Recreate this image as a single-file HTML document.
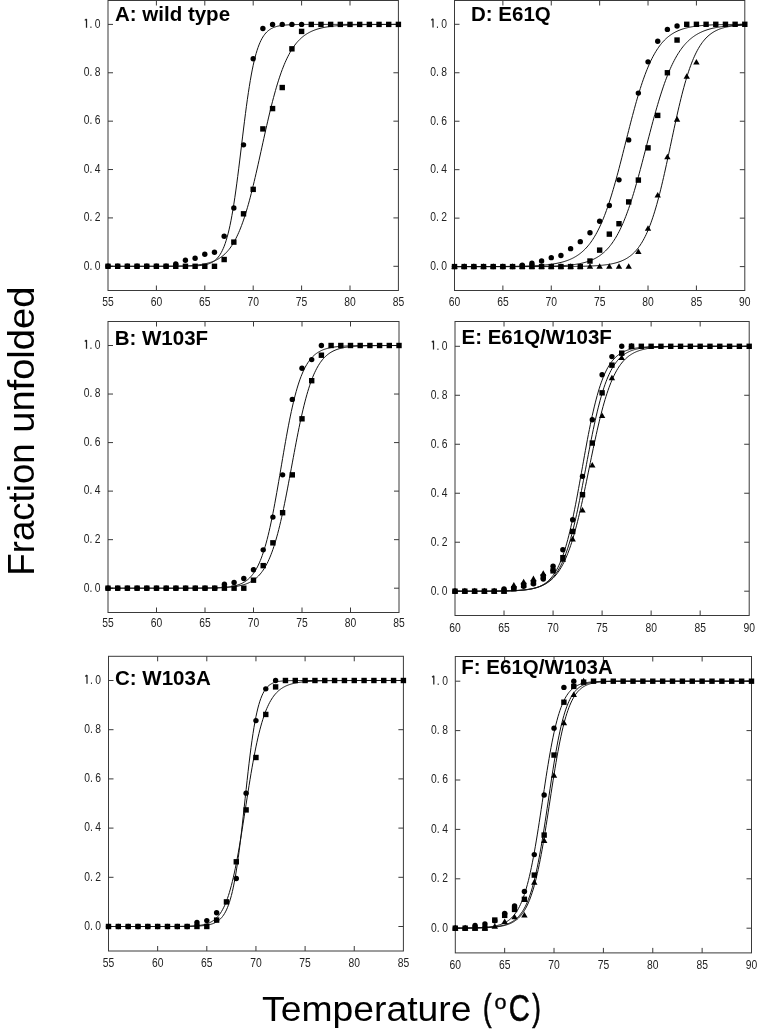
<!DOCTYPE html>
<html><head><meta charset="utf-8"><style>
html,body{margin:0;padding:0;background:#fff;}
svg{display:block;filter:grayscale(1);}
.tl{font-family:"Liberation Sans",sans-serif;font-size:12.6px;fill:#222;text-anchor:middle;}
.pl{font-family:"Liberation Sans",sans-serif;font-size:20.5px;font-weight:bold;fill:#000;}
.ax{font-family:"Liberation Sans",sans-serif;font-size:37px;fill:#000;}
</style></head><body>
<svg width="757" height="1034" viewBox="0 0 757 1034">
<rect width="757" height="1034" fill="#fff"/>
<g id="pA"><rect x="108" y="0.5" width="290.4" height="290" fill="none" stroke="#3a3a3a" stroke-width="1"/>
<path d="M156.4 290.5v-5M156.4 0.5v5M204.8 290.5v-5M204.8 0.5v5M253.2 290.5v-5M253.2 0.5v5M301.6 290.5v-5M301.6 0.5v5M350 290.5v-5M350 0.5v5M108 266.3h5M398.4 266.3h-5M108 217.92h5M398.4 217.92h-5M108 169.54h5M398.4 169.54h-5M108 121.16h5M398.4 121.16h-5M108 72.78h5M398.4 72.78h-5M108 24.4h5M398.4 24.4h-5" stroke="#3a3a3a" stroke-width="1" fill="none"/>
<text class="tl" transform="translate(108,305.8) scale(0.82,1)">55</text>
<text class="tl" transform="translate(156.4,305.8) scale(0.82,1)">60</text>
<text class="tl" transform="translate(204.8,305.8) scale(0.82,1)">65</text>
<text class="tl" transform="translate(253.2,305.8) scale(0.82,1)">70</text>
<text class="tl" transform="translate(301.6,305.8) scale(0.82,1)">75</text>
<text class="tl" transform="translate(350,305.8) scale(0.82,1)">80</text>
<text class="tl" transform="translate(398.4,305.8) scale(0.82,1)">85</text>
<text class="tl" transform="translate(86.6,269.6) scale(0.82,1)">0</text>
<text class="tl" transform="translate(91,269.6) scale(0.82,1)">.</text>
<text class="tl" transform="translate(97.7,269.6) scale(0.82,1)">0</text>
<text class="tl" transform="translate(86.6,221.22) scale(0.82,1)">0</text>
<text class="tl" transform="translate(91,221.22) scale(0.82,1)">.</text>
<text class="tl" transform="translate(97.7,221.22) scale(0.82,1)">2</text>
<text class="tl" transform="translate(86.6,172.84) scale(0.82,1)">0</text>
<text class="tl" transform="translate(91,172.84) scale(0.82,1)">.</text>
<text class="tl" transform="translate(97.7,172.84) scale(0.82,1)">4</text>
<text class="tl" transform="translate(86.6,124.46) scale(0.82,1)">0</text>
<text class="tl" transform="translate(91,124.46) scale(0.82,1)">.</text>
<text class="tl" transform="translate(97.7,124.46) scale(0.82,1)">6</text>
<text class="tl" transform="translate(86.6,76.08) scale(0.82,1)">0</text>
<text class="tl" transform="translate(91,76.08) scale(0.82,1)">.</text>
<text class="tl" transform="translate(97.7,76.08) scale(0.82,1)">8</text>
<path d="M86.5 18.9V27.7M84.8 20.4L86.5 18.9" stroke="#222" stroke-width="1.25" fill="none"/>
<text class="tl" transform="translate(91,27.7) scale(0.82,1)">.</text>
<text class="tl" transform="translate(97.7,27.7) scale(0.82,1)">0</text>
<polyline points="108,266.3 108.97,266.3 109.94,266.3 110.9,266.3 111.87,266.3 112.84,266.3 113.81,266.3 114.78,266.3 115.74,266.3 116.71,266.3 117.68,266.3 118.65,266.3 119.62,266.3 120.58,266.3 121.55,266.3 122.52,266.3 123.49,266.3 124.46,266.3 125.42,266.3 126.39,266.3 127.36,266.3 128.33,266.3 129.3,266.3 130.26,266.3 131.23,266.3 132.2,266.3 133.17,266.3 134.14,266.3 135.1,266.3 136.07,266.3 137.04,266.3 138.01,266.3 138.98,266.3 139.94,266.3 140.91,266.3 141.88,266.3 142.85,266.3 143.82,266.3 144.78,266.3 145.75,266.3 146.72,266.3 147.69,266.3 148.66,266.3 149.62,266.3 150.59,266.3 151.56,266.3 152.53,266.3 153.5,266.3 154.46,266.3 155.43,266.3 156.4,266.3 157.37,266.3 158.34,266.3 159.3,266.3 160.27,266.3 161.24,266.3 162.21,266.3 163.18,266.3 164.14,266.3 165.11,266.3 166.08,266.29 167.05,266.29 168.02,266.29 168.98,266.29 169.95,266.29 170.92,266.29 171.89,266.29 172.86,266.29 173.82,266.28 174.79,266.28 175.76,266.28 176.73,266.27 177.7,266.27 178.66,266.27 179.63,266.26 180.6,266.26 181.57,266.25 182.54,266.24 183.5,266.23 184.47,266.22 185.44,266.21 186.41,266.2 187.38,266.18 188.34,266.16 189.31,266.14 190.28,266.12 191.25,266.09 192.22,266.06 193.18,266.03 194.15,265.99 195.12,265.94 196.09,265.89 197.06,265.82 198.02,265.75 198.99,265.67 199.96,265.58 200.93,265.47 201.9,265.35 202.86,265.21 203.83,265.06 204.8,264.87 205.77,264.66 206.74,264.43 207.7,264.15 208.67,263.84 209.64,263.49 210.61,263.08 211.58,262.62 212.54,262.09 213.51,261.48 214.48,260.8 215.45,260.02 216.42,259.13 217.38,258.12 218.35,256.98 219.32,255.68 220.29,254.22 221.26,252.57 222.22,250.71 223.19,248.62 224.16,246.27 225.13,243.65 226.1,240.73 227.06,237.48 228.03,233.88 229,229.92 229.97,225.57 230.94,220.82 231.9,215.66 232.87,210.08 233.84,204.1 234.81,197.72 235.78,190.97 236.74,183.87 237.71,176.47 238.68,168.82 239.65,160.98 240.62,153.01 241.58,144.98 242.55,136.95 243.52,129.01 244.49,121.22 245.46,113.63 246.42,106.31 247.39,99.3 248.36,92.64 249.33,86.36 250.3,80.48 251.26,75 252.23,69.93 253.2,65.26 254.17,60.99 255.14,57.09 256.1,53.55 257.07,50.35 258.04,47.47 259.01,44.88 259.98,42.55 260.94,40.48 261.91,38.62 262.88,36.97 263.85,35.51 264.82,34.21 265.78,33.05 266.75,32.03 267.72,31.13 268.69,30.33 269.66,29.62 270.62,29 271.59,28.45 272.56,27.97 273.53,27.54 274.5,27.16 275.46,26.83 276.43,26.54 277.4,26.28 278.37,26.06 279.34,25.86 280.3,25.68 281.27,25.53 282.24,25.39 283.21,25.28 284.18,25.17 285.14,25.08 286.11,25 287.08,24.93 288.05,24.86 289.02,24.81 289.98,24.76 290.95,24.72 291.92,24.68 292.89,24.65 293.86,24.62 294.82,24.59 295.79,24.57 296.76,24.55 297.73,24.53 298.7,24.51 299.66,24.5 300.63,24.49 301.6,24.48 302.57,24.47 303.54,24.46 304.5,24.45 305.47,24.45 306.44,24.44 307.41,24.44 308.38,24.43 309.34,24.43 310.31,24.43 311.28,24.42 312.25,24.42 313.22,24.42 314.18,24.42 315.15,24.41 316.12,24.41 317.09,24.41 318.06,24.41 319.02,24.41 319.99,24.41 320.96,24.41 321.93,24.41 322.9,24.41 323.86,24.4 324.83,24.4 325.8,24.4 326.77,24.4 327.74,24.4 328.7,24.4 329.67,24.4 330.64,24.4 331.61,24.4 332.58,24.4 333.54,24.4 334.51,24.4 335.48,24.4 336.45,24.4 337.42,24.4 338.38,24.4 339.35,24.4 340.32,24.4 341.29,24.4 342.26,24.4 343.22,24.4 344.19,24.4 345.16,24.4 346.13,24.4 347.1,24.4 348.06,24.4 349.03,24.4 350,24.4 350.97,24.4 351.94,24.4 352.9,24.4 353.87,24.4 354.84,24.4 355.81,24.4 356.78,24.4 357.74,24.4 358.71,24.4 359.68,24.4 360.65,24.4 361.62,24.4 362.58,24.4 363.55,24.4 364.52,24.4 365.49,24.4 366.46,24.4 367.42,24.4 368.39,24.4 369.36,24.4 370.33,24.4 371.3,24.4 372.26,24.4 373.23,24.4 374.2,24.4 375.17,24.4 376.14,24.4 377.1,24.4 378.07,24.4 379.04,24.4 380.01,24.4 380.98,24.4 381.94,24.4 382.91,24.4 383.88,24.4 384.85,24.4 385.82,24.4 386.78,24.4 387.75,24.4 388.72,24.4 389.69,24.4 390.66,24.4 391.62,24.4 392.59,24.4 393.56,24.4 394.53,24.4 395.5,24.4 396.46,24.4 397.43,24.4 398.4,24.4" fill="none" stroke="#111" stroke-width="1"/>
<polyline points="108,266.3 108.97,266.3 109.94,266.3 110.9,266.3 111.87,266.3 112.84,266.3 113.81,266.3 114.78,266.3 115.74,266.3 116.71,266.3 117.68,266.3 118.65,266.3 119.62,266.3 120.58,266.3 121.55,266.3 122.52,266.3 123.49,266.3 124.46,266.3 125.42,266.3 126.39,266.3 127.36,266.3 128.33,266.3 129.3,266.3 130.26,266.3 131.23,266.3 132.2,266.3 133.17,266.3 134.14,266.3 135.1,266.3 136.07,266.29 137.04,266.29 138.01,266.29 138.98,266.29 139.94,266.29 140.91,266.29 141.88,266.29 142.85,266.29 143.82,266.29 144.78,266.29 145.75,266.29 146.72,266.29 147.69,266.28 148.66,266.28 149.62,266.28 150.59,266.28 151.56,266.28 152.53,266.27 153.5,266.27 154.46,266.27 155.43,266.27 156.4,266.26 157.37,266.26 158.34,266.26 159.3,266.25 160.27,266.25 161.24,266.24 162.21,266.24 163.18,266.23 164.14,266.23 165.11,266.22 166.08,266.21 167.05,266.21 168.02,266.2 168.98,266.19 169.95,266.18 170.92,266.17 171.89,266.16 172.86,266.14 173.82,266.13 174.79,266.11 175.76,266.1 176.73,266.08 177.7,266.06 178.66,266.04 179.63,266.01 180.6,265.99 181.57,265.96 182.54,265.93 183.5,265.9 184.47,265.87 185.44,265.83 186.41,265.79 187.38,265.74 188.34,265.69 189.31,265.64 190.28,265.58 191.25,265.52 192.22,265.45 193.18,265.38 194.15,265.3 195.12,265.21 196.09,265.12 197.06,265.02 198.02,264.91 198.99,264.79 199.96,264.66 200.93,264.52 201.9,264.37 202.86,264.21 203.83,264.04 204.8,263.85 205.77,263.64 206.74,263.42 207.7,263.18 208.67,262.92 209.64,262.64 210.61,262.34 211.58,262.01 212.54,261.66 213.51,261.28 214.48,260.88 215.45,260.44 216.42,259.96 217.38,259.45 218.35,258.9 219.32,258.32 220.29,257.68 221.26,257 222.22,256.27 223.19,255.48 224.16,254.64 225.13,253.74 226.1,252.78 227.06,251.74 228.03,250.64 229,249.46 229.97,248.2 230.94,246.86 231.9,245.43 232.87,243.91 233.84,242.29 234.81,240.58 235.78,238.76 236.74,236.83 237.71,234.79 238.68,232.63 239.65,230.36 240.62,227.97 241.58,225.45 242.55,222.81 243.52,220.05 244.49,217.15 245.46,214.13 246.42,210.99 247.39,207.71 248.36,204.32 249.33,200.81 250.3,197.18 251.26,193.44 252.23,189.59 253.2,185.65 254.17,181.61 255.14,177.49 256.1,173.3 257.07,169.05 258.04,164.74 259.01,160.39 259.98,156 260.94,151.6 261.91,147.19 262.88,142.78 263.85,138.39 264.82,134.03 265.78,129.7 266.75,125.42 267.72,121.2 268.69,117.05 269.66,112.97 270.62,108.99 271.59,105.09 272.56,101.29 273.53,97.6 274.5,94.02 275.46,90.55 276.43,87.2 277.4,83.96 278.37,80.85 279.34,77.86 280.3,74.99 281.27,72.23 282.24,69.6 283.21,67.09 284.18,64.69 285.14,62.41 286.11,60.23 287.08,58.17 288.05,56.21 289.02,54.35 289.98,52.58 290.95,50.92 291.92,49.34 292.89,47.85 293.86,46.44 294.82,45.11 295.79,43.86 296.76,42.67 297.73,41.56 298.7,40.51 299.66,39.53 300.63,38.6 301.6,37.73 302.57,36.91 303.54,36.14 304.5,35.41 305.47,34.73 306.44,34.09 307.41,33.5 308.38,32.93 309.34,32.41 310.31,31.91 311.28,31.45 312.25,31.01 313.22,30.6 314.18,30.22 315.15,29.86 316.12,29.52 317.09,29.21 318.06,28.91 319.02,28.63 319.99,28.37 320.96,28.13 321.93,27.9 322.9,27.69 323.86,27.48 324.83,27.3 325.8,27.12 326.77,26.95 327.74,26.8 328.7,26.65 329.67,26.52 330.64,26.39 331.61,26.27 332.58,26.15 333.54,26.05 334.51,25.95 335.48,25.86 336.45,25.77 337.42,25.69 338.38,25.61 339.35,25.54 340.32,25.47 341.29,25.41 342.26,25.35 343.22,25.29 344.19,25.24 345.16,25.19 346.13,25.14 347.1,25.1 348.06,25.06 349.03,25.02 350,24.98 350.97,24.95 351.94,24.92 352.9,24.89 353.87,24.86 354.84,24.83 355.81,24.81 356.78,24.79 357.74,24.76 358.71,24.74 359.68,24.72 360.65,24.7 361.62,24.69 362.58,24.67 363.55,24.66 364.52,24.64 365.49,24.63 366.46,24.62 367.42,24.6 368.39,24.59 369.36,24.58 370.33,24.57 371.3,24.56 372.26,24.55 373.23,24.54 374.2,24.54 375.17,24.53 376.14,24.52 377.1,24.52 378.07,24.51 379.04,24.5 380.01,24.5 380.98,24.49 381.94,24.49 382.91,24.48 383.88,24.48 384.85,24.47 385.82,24.47 386.78,24.47 387.75,24.46 388.72,24.46 389.69,24.46 390.66,24.45 391.62,24.45 392.59,24.45 393.56,24.45 394.53,24.44 395.5,24.44 396.46,24.44 397.43,24.44 398.4,24.43" fill="none" stroke="#111" stroke-width="1"/>
<circle cx="108" cy="266.3" r="2.7"/>
<circle cx="117.68" cy="266.3" r="2.7"/>
<circle cx="127.36" cy="266.3" r="2.7"/>
<circle cx="137.04" cy="266.3" r="2.7"/>
<circle cx="146.72" cy="266.3" r="2.7"/>
<circle cx="156.4" cy="266.3" r="2.7"/>
<circle cx="166.08" cy="266.3" r="2.7"/>
<circle cx="175.76" cy="263.88" r="2.7"/>
<circle cx="185.44" cy="260.25" r="2.7"/>
<circle cx="195.12" cy="258.32" r="2.7"/>
<circle cx="204.8" cy="254.21" r="2.7"/>
<circle cx="214.48" cy="252.27" r="2.7"/>
<circle cx="224.16" cy="236.3" r="2.7"/>
<circle cx="233.84" cy="208" r="2.7"/>
<circle cx="243.52" cy="144.87" r="2.7"/>
<circle cx="253.2" cy="58.75" r="2.7"/>
<circle cx="262.88" cy="28.51" r="2.7"/>
<circle cx="272.56" cy="24.4" r="2.7"/>
<circle cx="282.24" cy="24.4" r="2.7"/>
<circle cx="291.92" cy="24.4" r="2.7"/>
<circle cx="301.6" cy="24.4" r="2.7"/>
<rect x="105.3" y="263.6" width="5.4" height="5.4"/>
<rect x="114.98" y="263.6" width="5.4" height="5.4"/>
<rect x="124.66" y="263.6" width="5.4" height="5.4"/>
<rect x="134.34" y="263.6" width="5.4" height="5.4"/>
<rect x="144.02" y="263.6" width="5.4" height="5.4"/>
<rect x="153.7" y="263.6" width="5.4" height="5.4"/>
<rect x="163.38" y="263.6" width="5.4" height="5.4"/>
<rect x="173.06" y="263.6" width="5.4" height="5.4"/>
<rect x="182.74" y="263.6" width="5.4" height="5.4"/>
<rect x="192.42" y="263.6" width="5.4" height="5.4"/>
<rect x="202.1" y="263.6" width="5.4" height="5.4"/>
<rect x="211.78" y="263.6" width="5.4" height="5.4"/>
<rect x="221.46" y="256.83" width="5.4" height="5.4"/>
<rect x="231.14" y="239.41" width="5.4" height="5.4"/>
<rect x="240.82" y="211.11" width="5.4" height="5.4"/>
<rect x="250.5" y="186.68" width="5.4" height="5.4"/>
<rect x="260.18" y="126.2" width="5.4" height="5.4"/>
<rect x="269.86" y="105.88" width="5.4" height="5.4"/>
<rect x="279.54" y="84.84" width="5.4" height="5.4"/>
<rect x="289.22" y="46.13" width="5.4" height="5.4"/>
<rect x="298.9" y="28.72" width="5.4" height="5.4"/>
<rect x="308.58" y="21.7" width="5.4" height="5.4"/>
<rect x="318.26" y="21.7" width="5.4" height="5.4"/>
<rect x="327.94" y="21.7" width="5.4" height="5.4"/>
<rect x="337.62" y="21.7" width="5.4" height="5.4"/>
<rect x="347.3" y="21.7" width="5.4" height="5.4"/>
<rect x="356.98" y="21.7" width="5.4" height="5.4"/>
<rect x="366.66" y="21.7" width="5.4" height="5.4"/>
<rect x="376.34" y="21.7" width="5.4" height="5.4"/>
<rect x="386.02" y="21.7" width="5.4" height="5.4"/>
<rect x="395.7" y="21.7" width="5.4" height="5.4"/>
<text class="pl" x="115" y="20.5">A: wild type</text></g>
<g id="pB"><rect x="108" y="321.5" width="291" height="291" fill="none" stroke="#3a3a3a" stroke-width="1"/>
<path d="M156.5 612.5v-5M156.5 321.5v5M205 612.5v-5M205 321.5v5M253.5 612.5v-5M253.5 321.5v5M302 612.5v-5M302 321.5v5M350.5 612.5v-5M350.5 321.5v5M108 588.2h5M399 588.2h-5M108 539.66h5M399 539.66h-5M108 491.12h5M399 491.12h-5M108 442.58h5M399 442.58h-5M108 394.04h5M399 394.04h-5M108 345.5h5M399 345.5h-5" stroke="#3a3a3a" stroke-width="1" fill="none"/>
<text class="tl" transform="translate(108,627.4) scale(0.82,1)">55</text>
<text class="tl" transform="translate(156.5,627.4) scale(0.82,1)">60</text>
<text class="tl" transform="translate(205,627.4) scale(0.82,1)">65</text>
<text class="tl" transform="translate(253.5,627.4) scale(0.82,1)">70</text>
<text class="tl" transform="translate(302,627.4) scale(0.82,1)">75</text>
<text class="tl" transform="translate(350.5,627.4) scale(0.82,1)">80</text>
<text class="tl" transform="translate(399,627.4) scale(0.82,1)">85</text>
<text class="tl" transform="translate(86.6,591.5) scale(0.82,1)">0</text>
<text class="tl" transform="translate(91,591.5) scale(0.82,1)">.</text>
<text class="tl" transform="translate(97.7,591.5) scale(0.82,1)">0</text>
<text class="tl" transform="translate(86.6,542.96) scale(0.82,1)">0</text>
<text class="tl" transform="translate(91,542.96) scale(0.82,1)">.</text>
<text class="tl" transform="translate(97.7,542.96) scale(0.82,1)">2</text>
<text class="tl" transform="translate(86.6,494.42) scale(0.82,1)">0</text>
<text class="tl" transform="translate(91,494.42) scale(0.82,1)">.</text>
<text class="tl" transform="translate(97.7,494.42) scale(0.82,1)">4</text>
<text class="tl" transform="translate(86.6,445.88) scale(0.82,1)">0</text>
<text class="tl" transform="translate(91,445.88) scale(0.82,1)">.</text>
<text class="tl" transform="translate(97.7,445.88) scale(0.82,1)">6</text>
<text class="tl" transform="translate(86.6,397.34) scale(0.82,1)">0</text>
<text class="tl" transform="translate(91,397.34) scale(0.82,1)">.</text>
<text class="tl" transform="translate(97.7,397.34) scale(0.82,1)">8</text>
<path d="M86.5 340V348.8M84.8 341.5L86.5 340" stroke="#222" stroke-width="1.25" fill="none"/>
<text class="tl" transform="translate(91,348.8) scale(0.82,1)">.</text>
<text class="tl" transform="translate(97.7,348.8) scale(0.82,1)">0</text>
<polyline points="108,588.2 108.97,588.2 109.94,588.2 110.91,588.2 111.88,588.2 112.85,588.2 113.82,588.2 114.79,588.2 115.76,588.2 116.73,588.2 117.7,588.2 118.67,588.2 119.64,588.2 120.61,588.2 121.58,588.2 122.55,588.2 123.52,588.2 124.49,588.2 125.46,588.2 126.43,588.2 127.4,588.2 128.37,588.2 129.34,588.2 130.31,588.2 131.28,588.2 132.25,588.2 133.22,588.2 134.19,588.2 135.16,588.2 136.13,588.2 137.1,588.2 138.07,588.2 139.04,588.2 140.01,588.2 140.98,588.2 141.95,588.2 142.92,588.2 143.89,588.2 144.86,588.2 145.83,588.2 146.8,588.2 147.77,588.2 148.74,588.2 149.71,588.2 150.68,588.2 151.65,588.2 152.62,588.2 153.59,588.2 154.56,588.2 155.53,588.2 156.5,588.2 157.47,588.2 158.44,588.2 159.41,588.2 160.38,588.2 161.35,588.2 162.32,588.2 163.29,588.2 164.26,588.2 165.23,588.2 166.2,588.2 167.17,588.2 168.14,588.2 169.11,588.2 170.08,588.2 171.05,588.2 172.02,588.2 172.99,588.2 173.96,588.2 174.93,588.2 175.9,588.19 176.87,588.19 177.84,588.19 178.81,588.19 179.78,588.19 180.75,588.19 181.72,588.19 182.69,588.19 183.66,588.19 184.63,588.19 185.6,588.19 186.57,588.18 187.54,588.18 188.51,588.18 189.48,588.18 190.45,588.18 191.42,588.17 192.39,588.17 193.36,588.17 194.33,588.16 195.3,588.16 196.27,588.15 197.24,588.15 198.21,588.14 199.18,588.14 200.15,588.13 201.12,588.12 202.09,588.12 203.06,588.11 204.03,588.1 205,588.09 205.97,588.07 206.94,588.06 207.91,588.05 208.88,588.03 209.85,588.01 210.82,587.99 211.79,587.97 212.76,587.95 213.73,587.92 214.7,587.89 215.67,587.86 216.64,587.82 217.61,587.78 218.58,587.74 219.55,587.69 220.52,587.64 221.49,587.58 222.46,587.51 223.43,587.44 224.4,587.36 225.37,587.28 226.34,587.18 227.31,587.08 228.28,586.96 229.25,586.83 230.22,586.69 231.19,586.54 232.16,586.37 233.13,586.18 234.1,585.97 235.07,585.74 236.04,585.49 237.01,585.22 237.98,584.91 238.95,584.58 239.92,584.21 240.89,583.81 241.86,583.37 242.83,582.89 243.8,582.35 244.77,581.77 245.74,581.13 246.71,580.43 247.68,579.67 248.65,578.83 249.62,577.91 250.59,576.91 251.56,575.82 252.53,574.64 253.5,573.34 254.47,571.93 255.44,570.4 256.41,568.74 257.38,566.94 258.35,565 259.32,562.9 260.29,560.63 261.26,558.19 262.23,555.57 263.2,552.76 264.17,549.75 265.14,546.55 266.11,543.14 267.08,539.52 268.05,535.69 269.02,531.65 269.99,527.41 270.96,522.96 271.93,518.31 272.9,513.47 273.87,508.46 274.84,503.29 275.81,497.97 276.78,492.53 277.75,486.98 278.72,481.35 279.69,475.65 280.66,469.93 281.63,464.19 282.6,458.47 283.57,452.79 284.54,447.18 285.51,441.66 286.48,436.25 287.45,430.97 288.42,425.84 289.39,420.87 290.36,416.08 291.33,411.48 292.3,407.08 293.27,402.88 294.24,398.88 295.21,395.09 296.18,391.51 297.15,388.13 298.12,384.95 299.09,381.97 300.06,379.18 301.03,376.57 302,374.14 302.97,371.87 303.94,369.77 304.91,367.82 305.88,366.01 306.85,364.34 307.82,362.8 308.79,361.37 309.76,360.05 310.73,358.84 311.7,357.73 312.67,356.7 313.64,355.76 314.61,354.89 315.58,354.1 316.55,353.37 317.52,352.7 318.49,352.09 319.46,351.52 320.43,351.01 321.4,350.54 322.37,350.11 323.34,349.71 324.31,349.35 325.28,349.02 326.25,348.72 327.22,348.44 328.19,348.19 329.16,347.96 330.13,347.75 331.1,347.56 332.07,347.38 333.04,347.22 334.01,347.07 334.98,346.94 335.95,346.81 336.92,346.7 337.89,346.6 338.86,346.5 339.83,346.42 340.8,346.34 341.77,346.27 342.74,346.2 343.71,346.14 344.68,346.09 345.65,346.04 346.62,345.99 347.59,345.95 348.56,345.91 349.53,345.88 350.5,345.84 351.47,345.81 352.44,345.79 353.41,345.76 354.38,345.74 355.35,345.72 356.32,345.7 357.29,345.68 358.26,345.67 359.23,345.65 360.2,345.64 361.17,345.63 362.14,345.62 363.11,345.61 364.08,345.6 365.05,345.59 366.02,345.58 366.99,345.58 367.96,345.57 368.93,345.56 369.9,345.56 370.87,345.55 371.84,345.55 372.81,345.55 373.78,345.54 374.75,345.54 375.72,345.53 376.69,345.53 377.66,345.53 378.63,345.53 379.6,345.52 380.57,345.52 381.54,345.52 382.51,345.52 383.48,345.52 384.45,345.52 385.42,345.51 386.39,345.51 387.36,345.51 388.33,345.51 389.3,345.51 390.27,345.51 391.24,345.51 392.21,345.51 393.18,345.51 394.15,345.51 395.12,345.51 396.09,345.51 397.06,345.51 398.03,345.5 399,345.5" fill="none" stroke="#111" stroke-width="1"/>
<polyline points="108,588.2 108.97,588.2 109.94,588.2 110.91,588.2 111.88,588.2 112.85,588.2 113.82,588.2 114.79,588.2 115.76,588.2 116.73,588.2 117.7,588.2 118.67,588.2 119.64,588.2 120.61,588.2 121.58,588.2 122.55,588.2 123.52,588.2 124.49,588.2 125.46,588.2 126.43,588.2 127.4,588.2 128.37,588.2 129.34,588.2 130.31,588.2 131.28,588.2 132.25,588.2 133.22,588.2 134.19,588.2 135.16,588.2 136.13,588.2 137.1,588.2 138.07,588.2 139.04,588.2 140.01,588.2 140.98,588.2 141.95,588.2 142.92,588.2 143.89,588.2 144.86,588.2 145.83,588.2 146.8,588.2 147.77,588.2 148.74,588.2 149.71,588.2 150.68,588.2 151.65,588.2 152.62,588.2 153.59,588.2 154.56,588.2 155.53,588.2 156.5,588.2 157.47,588.2 158.44,588.2 159.41,588.2 160.38,588.2 161.35,588.2 162.32,588.2 163.29,588.2 164.26,588.2 165.23,588.2 166.2,588.2 167.17,588.2 168.14,588.19 169.11,588.19 170.08,588.19 171.05,588.19 172.02,588.19 172.99,588.19 173.96,588.19 174.93,588.19 175.9,588.19 176.87,588.19 177.84,588.19 178.81,588.19 179.78,588.19 180.75,588.18 181.72,588.18 182.69,588.18 183.66,588.18 184.63,588.18 185.6,588.18 186.57,588.17 187.54,588.17 188.51,588.17 189.48,588.17 190.45,588.16 191.42,588.16 192.39,588.16 193.36,588.15 194.33,588.15 195.3,588.15 196.27,588.14 197.24,588.14 198.21,588.13 199.18,588.12 200.15,588.12 201.12,588.11 202.09,588.1 203.06,588.1 204.03,588.09 205,588.08 205.97,588.07 206.94,588.05 207.91,588.04 208.88,588.03 209.85,588.01 210.82,588 211.79,587.98 212.76,587.96 213.73,587.94 214.7,587.92 215.67,587.89 216.64,587.86 217.61,587.83 218.58,587.8 219.55,587.77 220.52,587.73 221.49,587.69 222.46,587.64 223.43,587.6 224.4,587.54 225.37,587.49 226.34,587.42 227.31,587.35 228.28,587.28 229.25,587.2 230.22,587.11 231.19,587.02 232.16,586.91 233.13,586.8 234.1,586.68 235.07,586.55 236.04,586.4 237.01,586.25 237.98,586.07 238.95,585.89 239.92,585.69 240.89,585.47 241.86,585.23 242.83,584.97 243.8,584.69 244.77,584.38 245.74,584.05 246.71,583.69 247.68,583.3 248.65,582.87 249.62,582.41 250.59,581.91 251.56,581.37 252.53,580.78 253.5,580.14 254.47,579.45 255.44,578.7 256.41,577.9 257.38,577.02 258.35,576.07 259.32,575.05 260.29,573.95 261.26,572.76 262.23,571.48 263.2,570.09 264.17,568.61 265.14,567.01 266.11,565.3 267.08,563.46 268.05,561.49 269.02,559.38 269.99,557.13 270.96,554.73 271.93,552.17 272.9,549.46 273.87,546.58 274.84,543.53 275.81,540.31 276.78,536.91 277.75,533.35 278.72,529.6 279.69,525.69 280.66,521.61 281.63,517.36 282.6,512.96 283.57,508.4 284.54,503.71 285.51,498.9 286.48,493.96 287.45,488.93 288.42,483.82 289.39,478.65 290.36,473.43 291.33,468.18 292.3,462.92 293.27,457.68 294.24,452.47 295.21,447.31 296.18,442.21 297.15,437.21 298.12,432.31 299.09,427.52 300.06,422.87 301.03,418.36 302,414 302.97,409.8 303.94,405.77 304.91,401.91 305.88,398.22 306.85,394.71 307.82,391.38 308.79,388.22 309.76,385.23 310.73,382.41 311.7,379.76 312.67,377.27 313.64,374.93 314.61,372.74 315.58,370.69 316.55,368.78 317.52,367 318.49,365.34 319.46,363.8 320.43,362.37 321.4,361.05 322.37,359.82 323.34,358.68 324.31,357.62 325.28,356.65 326.25,355.75 327.22,354.92 328.19,354.15 329.16,353.45 330.13,352.8 331.1,352.2 332.07,351.65 333.04,351.14 334.01,350.67 334.98,350.25 335.95,349.85 336.92,349.49 337.89,349.16 338.86,348.85 339.83,348.57 340.8,348.31 341.77,348.08 342.74,347.86 343.71,347.66 344.68,347.48 345.65,347.31 346.62,347.16 347.59,347.02 348.56,346.89 349.53,346.77 350.5,346.67 351.47,346.57 352.44,346.48 353.41,346.39 354.38,346.32 355.35,346.25 356.32,346.18 357.29,346.13 358.26,346.07 359.23,346.02 360.2,345.98 361.17,345.94 362.14,345.9 363.11,345.87 364.08,345.84 365.05,345.81 366.02,345.78 366.99,345.76 367.96,345.73 368.93,345.71 369.9,345.7 370.87,345.68 371.84,345.66 372.81,345.65 373.78,345.64 374.75,345.63 375.72,345.61 376.69,345.6 377.66,345.6 378.63,345.59 379.6,345.58 380.57,345.57 381.54,345.57 382.51,345.56 383.48,345.56 384.45,345.55 385.42,345.55 386.39,345.54 387.36,345.54 388.33,345.54 389.3,345.53 390.27,345.53 391.24,345.53 392.21,345.52 393.18,345.52 394.15,345.52 395.12,345.52 396.09,345.52 397.06,345.52 398.03,345.51 399,345.51" fill="none" stroke="#111" stroke-width="1"/>
<circle cx="108" cy="588.2" r="2.7"/>
<circle cx="117.7" cy="588.2" r="2.7"/>
<circle cx="127.4" cy="588.2" r="2.7"/>
<circle cx="137.1" cy="588.2" r="2.7"/>
<circle cx="146.8" cy="588.2" r="2.7"/>
<circle cx="156.5" cy="588.2" r="2.7"/>
<circle cx="166.2" cy="588.2" r="2.7"/>
<circle cx="175.9" cy="588.2" r="2.7"/>
<circle cx="185.6" cy="588.2" r="2.7"/>
<circle cx="195.3" cy="588.2" r="2.7"/>
<circle cx="205" cy="588.2" r="2.7"/>
<circle cx="214.7" cy="588.2" r="2.7"/>
<circle cx="224.4" cy="584.32" r="2.7"/>
<circle cx="234.1" cy="582.38" r="2.7"/>
<circle cx="243.8" cy="578.49" r="2.7"/>
<circle cx="253.5" cy="569.75" r="2.7"/>
<circle cx="263.2" cy="549.85" r="2.7"/>
<circle cx="272.9" cy="517.09" r="2.7"/>
<circle cx="282.6" cy="474.86" r="2.7"/>
<circle cx="292.3" cy="399.38" r="2.7"/>
<circle cx="302" cy="368.31" r="2.7"/>
<circle cx="311.7" cy="359.58" r="2.7"/>
<circle cx="321.4" cy="345.5" r="2.7"/>
<rect x="105.3" y="585.5" width="5.4" height="5.4"/>
<rect x="115" y="585.5" width="5.4" height="5.4"/>
<rect x="124.7" y="585.5" width="5.4" height="5.4"/>
<rect x="134.4" y="585.5" width="5.4" height="5.4"/>
<rect x="144.1" y="585.5" width="5.4" height="5.4"/>
<rect x="153.8" y="585.5" width="5.4" height="5.4"/>
<rect x="163.5" y="585.5" width="5.4" height="5.4"/>
<rect x="173.2" y="585.5" width="5.4" height="5.4"/>
<rect x="182.9" y="585.5" width="5.4" height="5.4"/>
<rect x="192.6" y="585.5" width="5.4" height="5.4"/>
<rect x="202.3" y="585.5" width="5.4" height="5.4"/>
<rect x="212" y="585.5" width="5.4" height="5.4"/>
<rect x="221.7" y="585.5" width="5.4" height="5.4"/>
<rect x="231.4" y="585.5" width="5.4" height="5.4"/>
<rect x="241.1" y="585.5" width="5.4" height="5.4"/>
<rect x="250.8" y="577.49" width="5.4" height="5.4"/>
<rect x="260.5" y="562.93" width="5.4" height="5.4"/>
<rect x="270.2" y="540.12" width="5.4" height="5.4"/>
<rect x="279.9" y="510.02" width="5.4" height="5.4"/>
<rect x="289.6" y="472.16" width="5.4" height="5.4"/>
<rect x="299.3" y="416.1" width="5.4" height="5.4"/>
<rect x="309" y="377.99" width="5.4" height="5.4"/>
<rect x="318.7" y="352.51" width="5.4" height="5.4"/>
<rect x="328.4" y="342.8" width="5.4" height="5.4"/>
<rect x="338.1" y="342.8" width="5.4" height="5.4"/>
<rect x="347.8" y="342.8" width="5.4" height="5.4"/>
<rect x="357.5" y="342.8" width="5.4" height="5.4"/>
<rect x="367.2" y="342.8" width="5.4" height="5.4"/>
<rect x="376.9" y="342.8" width="5.4" height="5.4"/>
<rect x="386.6" y="342.8" width="5.4" height="5.4"/>
<rect x="396.3" y="342.8" width="5.4" height="5.4"/>
<text class="pl" x="114.7" y="344.6">B: W103F</text></g>
<g id="pC"><rect x="108.5" y="656.3" width="294.9" height="294.7" fill="none" stroke="#3a3a3a" stroke-width="1"/>
<path d="M157.65 951v-5M157.65 656.3v5M206.8 951v-5M206.8 656.3v5M255.95 951v-5M255.95 656.3v5M305.1 951v-5M305.1 656.3v5M354.25 951v-5M354.25 656.3v5M108.5 926.5h5M403.4 926.5h-5M108.5 877.3h5M403.4 877.3h-5M108.5 828.1h5M403.4 828.1h-5M108.5 778.9h5M403.4 778.9h-5M108.5 729.7h5M403.4 729.7h-5M108.5 680.5h5M403.4 680.5h-5" stroke="#3a3a3a" stroke-width="1" fill="none"/>
<text class="tl" transform="translate(108.5,966.6) scale(0.82,1)">55</text>
<text class="tl" transform="translate(157.65,966.6) scale(0.82,1)">60</text>
<text class="tl" transform="translate(206.8,966.6) scale(0.82,1)">65</text>
<text class="tl" transform="translate(255.95,966.6) scale(0.82,1)">70</text>
<text class="tl" transform="translate(305.1,966.6) scale(0.82,1)">75</text>
<text class="tl" transform="translate(354.25,966.6) scale(0.82,1)">80</text>
<text class="tl" transform="translate(403.4,966.6) scale(0.82,1)">85</text>
<text class="tl" transform="translate(87.1,929.8) scale(0.82,1)">0</text>
<text class="tl" transform="translate(91.5,929.8) scale(0.82,1)">.</text>
<text class="tl" transform="translate(98.2,929.8) scale(0.82,1)">0</text>
<text class="tl" transform="translate(87.1,880.6) scale(0.82,1)">0</text>
<text class="tl" transform="translate(91.5,880.6) scale(0.82,1)">.</text>
<text class="tl" transform="translate(98.2,880.6) scale(0.82,1)">2</text>
<text class="tl" transform="translate(87.1,831.4) scale(0.82,1)">0</text>
<text class="tl" transform="translate(91.5,831.4) scale(0.82,1)">.</text>
<text class="tl" transform="translate(98.2,831.4) scale(0.82,1)">4</text>
<text class="tl" transform="translate(87.1,782.2) scale(0.82,1)">0</text>
<text class="tl" transform="translate(91.5,782.2) scale(0.82,1)">.</text>
<text class="tl" transform="translate(98.2,782.2) scale(0.82,1)">6</text>
<text class="tl" transform="translate(87.1,733) scale(0.82,1)">0</text>
<text class="tl" transform="translate(91.5,733) scale(0.82,1)">.</text>
<text class="tl" transform="translate(98.2,733) scale(0.82,1)">8</text>
<path d="M87 675V683.8M85.3 676.5L87 675" stroke="#222" stroke-width="1.25" fill="none"/>
<text class="tl" transform="translate(91.5,683.8) scale(0.82,1)">.</text>
<text class="tl" transform="translate(98.2,683.8) scale(0.82,1)">0</text>
<polyline points="108.5,926.5 109.48,926.5 110.47,926.5 111.45,926.5 112.43,926.5 113.42,926.5 114.4,926.5 115.38,926.5 116.36,926.5 117.35,926.5 118.33,926.5 119.31,926.5 120.3,926.5 121.28,926.5 122.26,926.5 123.25,926.5 124.23,926.5 125.21,926.5 126.19,926.5 127.18,926.5 128.16,926.5 129.14,926.5 130.13,926.5 131.11,926.5 132.09,926.5 133.07,926.5 134.06,926.5 135.04,926.5 136.02,926.5 137.01,926.5 137.99,926.5 138.97,926.5 139.96,926.5 140.94,926.5 141.92,926.5 142.91,926.5 143.89,926.5 144.87,926.5 145.85,926.5 146.84,926.5 147.82,926.5 148.8,926.5 149.79,926.5 150.77,926.5 151.75,926.5 152.74,926.5 153.72,926.5 154.7,926.49 155.68,926.49 156.67,926.49 157.65,926.49 158.63,926.49 159.62,926.49 160.6,926.49 161.58,926.49 162.56,926.49 163.55,926.49 164.53,926.49 165.51,926.49 166.5,926.48 167.48,926.48 168.46,926.48 169.45,926.48 170.43,926.48 171.41,926.47 172.4,926.47 173.38,926.47 174.36,926.47 175.34,926.46 176.33,926.46 177.31,926.45 178.29,926.45 179.28,926.44 180.26,926.44 181.24,926.43 182.22,926.42 183.21,926.41 184.19,926.4 185.17,926.39 186.16,926.38 187.14,926.37 188.12,926.35 189.11,926.33 190.09,926.32 191.07,926.29 192.06,926.27 193.04,926.24 194.02,926.21 195,926.18 195.99,926.14 196.97,926.09 197.95,926.04 198.94,925.99 199.92,925.92 200.9,925.85 201.88,925.77 202.87,925.67 203.85,925.57 204.83,925.45 205.82,925.32 206.8,925.16 207.78,924.99 208.77,924.79 209.75,924.57 210.73,924.32 211.72,924.03 212.7,923.7 213.68,923.32 214.66,922.9 215.65,922.41 216.63,921.86 217.61,921.23 218.6,920.52 219.58,919.71 220.56,918.78 221.55,917.73 222.53,916.53 223.51,915.17 224.49,913.63 225.48,911.88 226.46,909.9 227.44,907.66 228.43,905.14 229.41,902.29 230.39,899.1 231.38,895.53 232.36,891.55 233.34,887.13 234.32,882.24 235.31,876.86 236.29,870.98 237.27,864.59 238.26,857.69 239.24,850.31 240.22,842.48 241.21,834.24 242.19,825.65 243.17,816.8 244.15,807.76 245.14,798.63 246.12,789.52 247.1,780.52 248.09,771.72 249.07,763.23 250.05,755.11 251.03,747.43 252.02,740.23 253,733.55 253.98,727.4 254.97,721.79 255.95,716.7 256.93,712.13 257.92,708.04 258.9,704.41 259.88,701.2 260.87,698.37 261.85,695.89 262.83,693.73 263.81,691.85 264.8,690.22 265.78,688.81 266.76,687.59 267.75,686.55 268.73,685.65 269.71,684.88 270.69,684.22 271.68,683.65 272.66,683.17 273.64,682.76 274.63,682.41 275.61,682.12 276.59,681.87 277.58,681.65 278.56,681.47 279.54,681.32 280.52,681.19 281.51,681.08 282.49,680.99 283.47,680.91 284.46,680.84 285.44,680.79 286.42,680.74 287.41,680.7 288.39,680.67 289.37,680.64 290.36,680.62 291.34,680.6 292.32,680.58 293.3,680.57 294.29,680.56 295.27,680.55 296.25,680.54 297.24,680.53 298.22,680.53 299.2,680.52 300.19,680.52 301.17,680.52 302.15,680.51 303.13,680.51 304.12,680.51 305.1,680.51 306.08,680.51 307.07,680.51 308.05,680.5 309.03,680.5 310.01,680.5 311,680.5 311.98,680.5 312.96,680.5 313.95,680.5 314.93,680.5 315.91,680.5 316.9,680.5 317.88,680.5 318.86,680.5 319.85,680.5 320.83,680.5 321.81,680.5 322.79,680.5 323.78,680.5 324.76,680.5 325.74,680.5 326.73,680.5 327.71,680.5 328.69,680.5 329.68,680.5 330.66,680.5 331.64,680.5 332.62,680.5 333.61,680.5 334.59,680.5 335.57,680.5 336.56,680.5 337.54,680.5 338.52,680.5 339.5,680.5 340.49,680.5 341.47,680.5 342.45,680.5 343.44,680.5 344.42,680.5 345.4,680.5 346.39,680.5 347.37,680.5 348.35,680.5 349.34,680.5 350.32,680.5 351.3,680.5 352.28,680.5 353.27,680.5 354.25,680.5 355.23,680.5 356.22,680.5 357.2,680.5 358.18,680.5 359.16,680.5 360.15,680.5 361.13,680.5 362.11,680.5 363.1,680.5 364.08,680.5 365.06,680.5 366.05,680.5 367.03,680.5 368.01,680.5 369,680.5 369.98,680.5 370.96,680.5 371.94,680.5 372.93,680.5 373.91,680.5 374.89,680.5 375.88,680.5 376.86,680.5 377.84,680.5 378.82,680.5 379.81,680.5 380.79,680.5 381.77,680.5 382.76,680.5 383.74,680.5 384.72,680.5 385.71,680.5 386.69,680.5 387.67,680.5 388.66,680.5 389.64,680.5 390.62,680.5 391.6,680.5 392.59,680.5 393.57,680.5 394.55,680.5 395.54,680.5 396.52,680.5 397.5,680.5 398.49,680.5 399.47,680.5 400.45,680.5 401.43,680.5 402.42,680.5 403.4,680.5" fill="none" stroke="#111" stroke-width="1"/>
<polyline points="108.5,926.5 109.48,926.5 110.47,926.5 111.45,926.5 112.43,926.5 113.42,926.5 114.4,926.5 115.38,926.5 116.36,926.5 117.35,926.5 118.33,926.5 119.31,926.5 120.3,926.5 121.28,926.5 122.26,926.5 123.25,926.5 124.23,926.5 125.21,926.5 126.19,926.5 127.18,926.5 128.16,926.5 129.14,926.5 130.13,926.5 131.11,926.5 132.09,926.5 133.07,926.5 134.06,926.5 135.04,926.5 136.02,926.5 137.01,926.5 137.99,926.5 138.97,926.5 139.96,926.5 140.94,926.5 141.92,926.5 142.91,926.5 143.89,926.5 144.87,926.5 145.85,926.5 146.84,926.5 147.82,926.5 148.8,926.5 149.79,926.5 150.77,926.5 151.75,926.5 152.74,926.5 153.72,926.5 154.7,926.5 155.68,926.5 156.67,926.5 157.65,926.5 158.63,926.5 159.62,926.5 160.6,926.49 161.58,926.49 162.56,926.49 163.55,926.49 164.53,926.49 165.51,926.49 166.5,926.49 167.48,926.49 168.46,926.48 169.45,926.48 170.43,926.48 171.41,926.47 172.4,926.47 173.38,926.47 174.36,926.46 175.34,926.46 176.33,926.45 177.31,926.44 178.29,926.43 179.28,926.42 180.26,926.41 181.24,926.4 182.22,926.39 183.21,926.37 184.19,926.35 185.17,926.33 186.16,926.31 187.14,926.28 188.12,926.25 189.11,926.21 190.09,926.17 191.07,926.13 192.06,926.08 193.04,926.02 194.02,925.96 195,925.88 195.99,925.8 196.97,925.71 197.95,925.6 198.94,925.48 199.92,925.35 200.9,925.2 201.88,925.02 202.87,924.83 203.85,924.61 204.83,924.37 205.82,924.1 206.8,923.79 207.78,923.45 208.77,923.06 209.75,922.63 210.73,922.14 211.72,921.6 212.7,921 213.68,920.32 214.66,919.57 215.65,918.74 216.63,917.81 217.61,916.77 218.6,915.63 219.58,914.36 220.56,912.96 221.55,911.42 222.53,909.72 223.51,907.85 224.49,905.8 225.48,903.56 226.46,901.11 227.44,898.45 228.43,895.56 229.41,892.43 230.39,889.05 231.38,885.42 232.36,881.53 233.34,877.38 234.32,872.97 235.31,868.3 236.29,863.37 237.27,858.21 238.26,852.81 239.24,847.21 240.22,841.41 241.21,835.45 242.19,829.35 243.17,823.14 244.15,816.86 245.14,810.53 246.12,804.2 247.1,797.88 248.09,791.63 249.07,785.46 250.05,779.42 251.03,773.52 252.02,767.78 253,762.24 253.98,756.9 254.97,751.79 255.95,746.91 256.93,742.26 257.92,737.85 258.9,733.69 259.88,729.77 260.87,726.09 261.85,722.64 262.83,719.41 263.81,716.4 264.8,713.61 265.78,711 266.76,708.59 267.75,706.36 268.73,704.3 269.71,702.39 270.69,700.63 271.68,699.01 272.66,697.51 273.64,696.14 274.63,694.87 275.61,693.71 276.59,692.64 277.58,691.66 278.56,690.76 279.54,689.94 280.52,689.18 281.51,688.48 282.49,687.84 283.47,687.26 284.46,686.72 285.44,686.22 286.42,685.77 287.41,685.36 288.39,684.98 289.37,684.63 290.36,684.3 291.34,684.01 292.32,683.74 293.3,683.49 294.29,683.26 295.27,683.05 296.25,682.86 297.24,682.68 298.22,682.52 299.2,682.36 300.19,682.23 301.17,682.1 302.15,681.98 303.13,681.87 304.12,681.77 305.1,681.68 306.08,681.6 307.07,681.52 308.05,681.44 309.03,681.38 310.01,681.32 311,681.26 311.98,681.21 312.96,681.16 313.95,681.11 314.93,681.07 315.91,681.03 316.9,681 317.88,680.96 318.86,680.93 319.85,680.9 320.83,680.88 321.81,680.85 322.79,680.83 323.78,680.81 324.76,680.79 325.74,680.77 326.73,680.75 327.71,680.74 328.69,680.72 329.68,680.71 330.66,680.7 331.64,680.68 332.62,680.67 333.61,680.66 334.59,680.65 335.57,680.64 336.56,680.64 337.54,680.63 338.52,680.62 339.5,680.61 340.49,680.61 341.47,680.6 342.45,680.59 343.44,680.59 344.42,680.58 345.4,680.58 346.39,680.58 347.37,680.57 348.35,680.57 349.34,680.56 350.32,680.56 351.3,680.56 352.28,680.55 353.27,680.55 354.25,680.55 355.23,680.55 356.22,680.54 357.2,680.54 358.18,680.54 359.16,680.54 360.15,680.54 361.13,680.53 362.11,680.53 363.1,680.53 364.08,680.53 365.06,680.53 366.05,680.53 367.03,680.53 368.01,680.52 369,680.52 369.98,680.52 370.96,680.52 371.94,680.52 372.93,680.52 373.91,680.52 374.89,680.52 375.88,680.52 376.86,680.52 377.84,680.52 378.82,680.52 379.81,680.51 380.79,680.51 381.77,680.51 382.76,680.51 383.74,680.51 384.72,680.51 385.71,680.51 386.69,680.51 387.67,680.51 388.66,680.51 389.64,680.51 390.62,680.51 391.6,680.51 392.59,680.51 393.57,680.51 394.55,680.51 395.54,680.51 396.52,680.51 397.5,680.51 398.49,680.51 399.47,680.51 400.45,680.51 401.43,680.51 402.42,680.51 403.4,680.51" fill="none" stroke="#111" stroke-width="1"/>
<circle cx="108.5" cy="926.5" r="2.7"/>
<circle cx="118.33" cy="926.5" r="2.7"/>
<circle cx="128.16" cy="926.5" r="2.7"/>
<circle cx="137.99" cy="926.5" r="2.7"/>
<circle cx="147.82" cy="926.5" r="2.7"/>
<circle cx="157.65" cy="926.5" r="2.7"/>
<circle cx="167.48" cy="926.5" r="2.7"/>
<circle cx="177.31" cy="926.5" r="2.7"/>
<circle cx="187.14" cy="926.5" r="2.7"/>
<circle cx="196.97" cy="922.56" r="2.7"/>
<circle cx="206.8" cy="920.6" r="2.7"/>
<circle cx="216.63" cy="912.72" r="2.7"/>
<circle cx="236.29" cy="878.53" r="2.7"/>
<circle cx="246.12" cy="793.17" r="2.7"/>
<circle cx="255.95" cy="720.6" r="2.7"/>
<circle cx="265.78" cy="688.86" r="2.7"/>
<circle cx="275.61" cy="680.5" r="2.7"/>
<rect x="105.8" y="923.8" width="5.4" height="5.4"/>
<rect x="115.63" y="923.8" width="5.4" height="5.4"/>
<rect x="125.46" y="923.8" width="5.4" height="5.4"/>
<rect x="135.29" y="923.8" width="5.4" height="5.4"/>
<rect x="145.12" y="923.8" width="5.4" height="5.4"/>
<rect x="154.95" y="923.8" width="5.4" height="5.4"/>
<rect x="164.78" y="923.8" width="5.4" height="5.4"/>
<rect x="174.61" y="923.8" width="5.4" height="5.4"/>
<rect x="184.44" y="923.8" width="5.4" height="5.4"/>
<rect x="194.27" y="923.8" width="5.4" height="5.4"/>
<rect x="204.1" y="923.8" width="5.4" height="5.4"/>
<rect x="213.93" y="917.4" width="5.4" height="5.4"/>
<rect x="223.76" y="899.2" width="5.4" height="5.4"/>
<rect x="233.59" y="859.1" width="5.4" height="5.4"/>
<rect x="243.42" y="807.2" width="5.4" height="5.4"/>
<rect x="253.25" y="754.8" width="5.4" height="5.4"/>
<rect x="263.08" y="711.75" width="5.4" height="5.4"/>
<rect x="272.91" y="684.2" width="5.4" height="5.4"/>
<rect x="282.74" y="677.8" width="5.4" height="5.4"/>
<rect x="292.57" y="677.8" width="5.4" height="5.4"/>
<rect x="302.4" y="677.8" width="5.4" height="5.4"/>
<rect x="312.23" y="677.8" width="5.4" height="5.4"/>
<rect x="322.06" y="677.8" width="5.4" height="5.4"/>
<rect x="331.89" y="677.8" width="5.4" height="5.4"/>
<rect x="341.72" y="677.8" width="5.4" height="5.4"/>
<rect x="351.55" y="677.8" width="5.4" height="5.4"/>
<rect x="361.38" y="677.8" width="5.4" height="5.4"/>
<rect x="371.21" y="677.8" width="5.4" height="5.4"/>
<rect x="381.04" y="677.8" width="5.4" height="5.4"/>
<rect x="390.87" y="677.8" width="5.4" height="5.4"/>
<rect x="400.7" y="677.8" width="5.4" height="5.4"/>
<text class="pl" x="115" y="685">C: W103A</text></g>
<g id="pD"><rect x="454.5" y="0.5" width="290.3" height="290" fill="none" stroke="#3a3a3a" stroke-width="1"/>
<path d="M502.88 290.5v-5M502.88 0.5v5M551.27 290.5v-5M551.27 0.5v5M599.65 290.5v-5M599.65 0.5v5M648.03 290.5v-5M648.03 0.5v5M696.42 290.5v-5M696.42 0.5v5M454.5 266.6h5M744.8 266.6h-5M454.5 218.14h5M744.8 218.14h-5M454.5 169.68h5M744.8 169.68h-5M454.5 121.22h5M744.8 121.22h-5M454.5 72.76h5M744.8 72.76h-5M454.5 24.3h5M744.8 24.3h-5" stroke="#3a3a3a" stroke-width="1" fill="none"/>
<text class="tl" transform="translate(454.5,305.8) scale(0.82,1)">60</text>
<text class="tl" transform="translate(502.88,305.8) scale(0.82,1)">65</text>
<text class="tl" transform="translate(551.27,305.8) scale(0.82,1)">70</text>
<text class="tl" transform="translate(599.65,305.8) scale(0.82,1)">75</text>
<text class="tl" transform="translate(648.03,305.8) scale(0.82,1)">80</text>
<text class="tl" transform="translate(696.42,305.8) scale(0.82,1)">85</text>
<text class="tl" transform="translate(744.8,305.8) scale(0.82,1)">90</text>
<text class="tl" transform="translate(433.1,269.9) scale(0.82,1)">0</text>
<text class="tl" transform="translate(437.5,269.9) scale(0.82,1)">.</text>
<text class="tl" transform="translate(444.2,269.9) scale(0.82,1)">0</text>
<text class="tl" transform="translate(433.1,221.44) scale(0.82,1)">0</text>
<text class="tl" transform="translate(437.5,221.44) scale(0.82,1)">.</text>
<text class="tl" transform="translate(444.2,221.44) scale(0.82,1)">2</text>
<text class="tl" transform="translate(433.1,172.98) scale(0.82,1)">0</text>
<text class="tl" transform="translate(437.5,172.98) scale(0.82,1)">.</text>
<text class="tl" transform="translate(444.2,172.98) scale(0.82,1)">4</text>
<text class="tl" transform="translate(433.1,124.52) scale(0.82,1)">0</text>
<text class="tl" transform="translate(437.5,124.52) scale(0.82,1)">.</text>
<text class="tl" transform="translate(444.2,124.52) scale(0.82,1)">6</text>
<text class="tl" transform="translate(433.1,76.06) scale(0.82,1)">0</text>
<text class="tl" transform="translate(437.5,76.06) scale(0.82,1)">.</text>
<text class="tl" transform="translate(444.2,76.06) scale(0.82,1)">8</text>
<path d="M433 18.8V27.6M431.3 20.3L433 18.8" stroke="#222" stroke-width="1.25" fill="none"/>
<text class="tl" transform="translate(437.5,27.6) scale(0.82,1)">.</text>
<text class="tl" transform="translate(444.2,27.6) scale(0.82,1)">0</text>
<polyline points="454.5,266.59 455.47,266.59 456.44,266.59 457.4,266.59 458.37,266.59 459.34,266.59 460.31,266.59 461.27,266.59 462.24,266.58 463.21,266.58 464.18,266.58 465.14,266.58 466.11,266.58 467.08,266.58 468.05,266.58 469.01,266.58 469.98,266.58 470.95,266.58 471.92,266.57 472.89,266.57 473.85,266.57 474.82,266.57 475.79,266.57 476.76,266.57 477.72,266.57 478.69,266.56 479.66,266.56 480.63,266.56 481.59,266.56 482.56,266.55 483.53,266.55 484.5,266.55 485.47,266.55 486.43,266.54 487.4,266.54 488.37,266.54 489.34,266.53 490.3,266.53 491.27,266.53 492.24,266.52 493.21,266.52 494.17,266.51 495.14,266.51 496.11,266.5 497.08,266.5 498.05,266.49 499.01,266.49 499.98,266.48 500.95,266.47 501.92,266.47 502.88,266.46 503.85,266.45 504.82,266.44 505.79,266.43 506.75,266.42 507.72,266.41 508.69,266.4 509.66,266.39 510.62,266.38 511.59,266.37 512.56,266.36 513.53,266.34 514.5,266.33 515.46,266.31 516.43,266.3 517.4,266.28 518.37,266.26 519.33,266.24 520.3,266.22 521.27,266.2 522.24,266.17 523.2,266.15 524.17,266.12 525.14,266.1 526.11,266.07 527.08,266.04 528.04,266 529.01,265.97 529.98,265.93 530.95,265.89 531.91,265.85 532.88,265.81 533.85,265.76 534.82,265.71 535.78,265.66 536.75,265.61 537.72,265.55 538.69,265.49 539.65,265.42 540.62,265.35 541.59,265.28 542.56,265.2 543.53,265.12 544.49,265.03 545.46,264.94 546.43,264.84 547.4,264.74 548.36,264.63 549.33,264.51 550.3,264.39 551.27,264.26 552.23,264.12 553.2,263.97 554.17,263.81 555.14,263.65 556.11,263.47 557.07,263.29 558.04,263.09 559.01,262.88 559.98,262.66 560.94,262.42 561.91,262.18 562.88,261.91 563.85,261.63 564.81,261.34 565.78,261.02 566.75,260.69 567.72,260.34 568.68,259.97 569.65,259.57 570.62,259.16 571.59,258.71 572.56,258.25 573.52,257.75 574.49,257.23 575.46,256.67 576.43,256.08 577.39,255.46 578.36,254.81 579.33,254.11 580.3,253.38 581.26,252.61 582.23,251.79 583.2,250.93 584.17,250.01 585.13,249.05 586.1,248.04 587.07,246.97 588.04,245.85 589.01,244.66 589.97,243.42 590.94,242.11 591.91,240.73 592.88,239.28 593.84,237.76 594.81,236.17 595.78,234.5 596.75,232.75 597.71,230.91 598.68,229 599.65,227 600.62,224.91 601.59,222.74 602.55,220.47 603.52,218.11 604.49,215.66 605.46,213.12 606.42,210.49 607.39,207.76 608.36,204.94 609.33,202.03 610.29,199.03 611.26,195.95 612.23,192.78 613.2,189.52 614.16,186.19 615.13,182.78 616.1,179.3 617.07,175.76 618.04,172.16 619,168.5 619.97,164.79 620.94,161.04 621.91,157.26 622.87,153.45 623.84,149.62 624.81,145.78 625.78,141.93 626.74,138.08 627.71,134.25 628.68,130.43 629.65,126.64 630.62,122.88 631.58,119.16 632.55,115.49 633.52,111.88 634.49,108.32 635.45,104.83 636.42,101.41 637.39,98.06 638.36,94.8 639.32,91.62 640.29,88.52 641.26,85.52 642.23,82.6 643.19,79.78 644.16,77.05 645.13,74.42 646.1,71.89 647.07,69.44 648.03,67.1 649,64.85 649.97,62.69 650.94,60.63 651.9,58.65 652.87,56.76 653.84,54.96 654.81,53.25 655.77,51.61 656.74,50.06 657.71,48.58 658.68,47.18 659.65,45.85 660.61,44.58 661.58,43.39 662.55,42.25 663.52,41.18 664.48,40.17 665.45,39.21 666.42,38.31 667.39,37.46 668.35,36.65 669.32,35.89 670.29,35.18 671.26,34.5 672.23,33.87 673.19,33.27 674.16,32.71 675.13,32.18 676.1,31.68 677.06,31.22 678.03,30.78 679,30.37 679.97,29.98 680.93,29.62 681.9,29.28 682.87,28.96 683.84,28.66 684.8,28.38 685.77,28.11 686.74,27.87 687.71,27.63 688.68,27.42 689.64,27.21 690.61,27.02 691.58,26.85 692.55,26.68 693.51,26.52 694.48,26.38 695.45,26.24 696.42,26.11 697.38,25.99 698.35,25.88 699.32,25.78 700.29,25.68 701.25,25.59 702.22,25.5 703.19,25.42 704.16,25.35 705.13,25.28 706.09,25.21 707.06,25.15 708.03,25.09 709,25.04 709.96,24.99 710.93,24.94 711.9,24.9 712.87,24.86 713.83,24.82 714.8,24.79 715.77,24.75 716.74,24.72 717.71,24.7 718.67,24.67 719.64,24.64 720.61,24.62 721.58,24.6 722.54,24.58 723.51,24.56 724.48,24.54 725.45,24.52 726.41,24.51 727.38,24.5 728.35,24.48 729.32,24.47 730.28,24.46 731.25,24.45 732.22,24.44 733.19,24.43 734.16,24.42 735.12,24.41 736.09,24.4 737.06,24.4 738.03,24.39 738.99,24.38 739.96,24.38 740.93,24.37 741.9,24.37 742.86,24.36 743.83,24.36 744.8,24.35" fill="none" stroke="#111" stroke-width="1"/>
<polyline points="454.5,266.6 455.47,266.6 456.44,266.6 457.4,266.6 458.37,266.6 459.34,266.6 460.31,266.6 461.27,266.6 462.24,266.6 463.21,266.6 464.18,266.6 465.14,266.6 466.11,266.6 467.08,266.6 468.05,266.6 469.01,266.6 469.98,266.6 470.95,266.6 471.92,266.6 472.89,266.6 473.85,266.6 474.82,266.6 475.79,266.6 476.76,266.6 477.72,266.6 478.69,266.6 479.66,266.6 480.63,266.6 481.59,266.6 482.56,266.6 483.53,266.6 484.5,266.6 485.47,266.6 486.43,266.6 487.4,266.6 488.37,266.6 489.34,266.59 490.3,266.59 491.27,266.59 492.24,266.59 493.21,266.59 494.17,266.59 495.14,266.59 496.11,266.59 497.08,266.59 498.05,266.59 499.01,266.59 499.98,266.59 500.95,266.59 501.92,266.59 502.88,266.59 503.85,266.58 504.82,266.58 505.79,266.58 506.75,266.58 507.72,266.58 508.69,266.58 509.66,266.58 510.62,266.58 511.59,266.57 512.56,266.57 513.53,266.57 514.5,266.57 515.46,266.57 516.43,266.56 517.4,266.56 518.37,266.56 519.33,266.55 520.3,266.55 521.27,266.55 522.24,266.54 523.2,266.54 524.17,266.54 525.14,266.53 526.11,266.53 527.08,266.52 528.04,266.51 529.01,266.51 529.98,266.5 530.95,266.5 531.91,266.49 532.88,266.48 533.85,266.47 534.82,266.46 535.78,266.45 536.75,266.44 537.72,266.43 538.69,266.42 539.65,266.41 540.62,266.39 541.59,266.38 542.56,266.37 543.53,266.35 544.49,266.33 545.46,266.31 546.43,266.29 547.4,266.27 548.36,266.25 549.33,266.22 550.3,266.2 551.27,266.17 552.23,266.14 553.2,266.11 554.17,266.08 555.14,266.04 556.11,266 557.07,265.96 558.04,265.92 559.01,265.87 559.98,265.82 560.94,265.77 561.91,265.71 562.88,265.65 563.85,265.58 564.81,265.52 565.78,265.44 566.75,265.36 567.72,265.28 568.68,265.19 569.65,265.09 570.62,264.99 571.59,264.88 572.56,264.77 573.52,264.64 574.49,264.51 575.46,264.37 576.43,264.22 577.39,264.06 578.36,263.89 579.33,263.71 580.3,263.52 581.26,263.32 582.23,263.1 583.2,262.87 584.17,262.62 585.13,262.36 586.1,262.08 587.07,261.78 588.04,261.46 589.01,261.13 589.97,260.77 590.94,260.39 591.91,259.99 592.88,259.56 593.84,259.1 594.81,258.62 595.78,258.1 596.75,257.56 597.71,256.98 598.68,256.37 599.65,255.72 600.62,255.03 601.59,254.31 602.55,253.54 603.52,252.72 604.49,251.86 605.46,250.95 606.42,249.99 607.39,248.97 608.36,247.9 609.33,246.77 610.29,245.58 611.26,244.32 612.23,243 613.2,241.61 614.16,240.15 615.13,238.62 616.1,237.01 617.07,235.33 618.04,233.56 619,231.72 619.97,229.79 620.94,227.77 621.91,225.67 622.87,223.48 623.84,221.21 624.81,218.84 625.78,216.38 626.74,213.83 627.71,211.2 628.68,208.47 629.65,205.66 630.62,202.75 631.58,199.77 632.55,196.7 633.52,193.55 634.49,190.33 635.45,187.03 636.42,183.67 637.39,180.24 638.36,176.75 639.32,173.21 640.29,169.62 641.26,165.99 642.23,162.33 643.19,158.63 644.16,154.92 645.13,151.19 646.1,147.45 647.07,143.71 648.03,139.97 649,136.25 649.97,132.55 650.94,128.88 651.9,125.24 652.87,121.65 653.84,118.09 654.81,114.59 655.77,111.15 656.74,107.77 657.71,104.46 658.68,101.21 659.65,98.04 660.61,94.95 661.58,91.94 662.55,89.01 663.52,86.16 664.48,83.4 665.45,80.73 666.42,78.15 667.39,75.65 668.35,73.24 669.32,70.92 670.29,68.68 671.26,66.53 672.23,64.47 673.19,62.49 674.16,60.59 675.13,58.77 676.1,57.02 677.06,55.36 678.03,53.77 679,52.25 679.97,50.8 680.93,49.42 681.9,48.1 682.87,46.85 683.84,45.66 684.8,44.52 685.77,43.44 686.74,42.42 687.71,41.44 688.68,40.52 689.64,39.64 690.61,38.81 691.58,38.02 692.55,37.27 693.51,36.57 694.48,35.89 695.45,35.26 696.42,34.66 697.38,34.09 698.35,33.55 699.32,33.04 700.29,32.55 701.25,32.1 702.22,31.67 703.19,31.26 704.16,30.87 705.13,30.51 706.09,30.16 707.06,29.84 708.03,29.53 709,29.24 709.96,28.96 710.93,28.7 711.9,28.46 712.87,28.23 713.83,28.01 714.8,27.8 715.77,27.61 716.74,27.42 717.71,27.25 718.67,27.09 719.64,26.93 720.61,26.79 721.58,26.65 722.54,26.52 723.51,26.39 724.48,26.28 725.45,26.17 726.41,26.06 727.38,25.97 728.35,25.87 729.32,25.79 730.28,25.7 731.25,25.63 732.22,25.55 733.19,25.48 734.16,25.42 735.12,25.36 736.09,25.3 737.06,25.24 738.03,25.19 738.99,25.14 739.96,25.1 740.93,25.05 741.9,25.01 742.86,24.97 743.83,24.94 744.8,24.9" fill="none" stroke="#111" stroke-width="1"/>
<polyline points="454.5,266.6 455.47,266.6 456.44,266.6 457.4,266.6 458.37,266.6 459.34,266.6 460.31,266.6 461.27,266.6 462.24,266.6 463.21,266.6 464.18,266.6 465.14,266.6 466.11,266.6 467.08,266.6 468.05,266.6 469.01,266.6 469.98,266.6 470.95,266.6 471.92,266.6 472.89,266.6 473.85,266.6 474.82,266.6 475.79,266.6 476.76,266.6 477.72,266.6 478.69,266.6 479.66,266.6 480.63,266.6 481.59,266.6 482.56,266.6 483.53,266.6 484.5,266.6 485.47,266.6 486.43,266.6 487.4,266.6 488.37,266.6 489.34,266.6 490.3,266.6 491.27,266.6 492.24,266.6 493.21,266.6 494.17,266.6 495.14,266.6 496.11,266.6 497.08,266.6 498.05,266.6 499.01,266.6 499.98,266.6 500.95,266.6 501.92,266.6 502.88,266.6 503.85,266.6 504.82,266.6 505.79,266.6 506.75,266.6 507.72,266.6 508.69,266.6 509.66,266.6 510.62,266.6 511.59,266.6 512.56,266.6 513.53,266.6 514.5,266.6 515.46,266.6 516.43,266.6 517.4,266.6 518.37,266.6 519.33,266.6 520.3,266.6 521.27,266.6 522.24,266.6 523.2,266.59 524.17,266.59 525.14,266.59 526.11,266.59 527.08,266.59 528.04,266.59 529.01,266.59 529.98,266.59 530.95,266.59 531.91,266.59 532.88,266.59 533.85,266.59 534.82,266.59 535.78,266.59 536.75,266.59 537.72,266.59 538.69,266.58 539.65,266.58 540.62,266.58 541.59,266.58 542.56,266.58 543.53,266.58 544.49,266.58 545.46,266.58 546.43,266.57 547.4,266.57 548.36,266.57 549.33,266.57 550.3,266.57 551.27,266.56 552.23,266.56 553.2,266.56 554.17,266.56 555.14,266.55 556.11,266.55 557.07,266.55 558.04,266.54 559.01,266.54 559.98,266.53 560.94,266.53 561.91,266.52 562.88,266.52 563.85,266.51 564.81,266.51 565.78,266.5 566.75,266.49 567.72,266.48 568.68,266.48 569.65,266.47 570.62,266.46 571.59,266.45 572.56,266.44 573.52,266.43 574.49,266.41 575.46,266.4 576.43,266.39 577.39,266.37 578.36,266.35 579.33,266.34 580.3,266.32 581.26,266.3 582.23,266.28 583.2,266.25 584.17,266.23 585.13,266.2 586.1,266.17 587.07,266.14 588.04,266.11 589.01,266.07 589.97,266.03 590.94,265.99 591.91,265.95 592.88,265.9 593.84,265.85 594.81,265.79 595.78,265.74 596.75,265.67 597.71,265.61 598.68,265.53 599.65,265.46 600.62,265.37 601.59,265.28 602.55,265.19 603.52,265.08 604.49,264.97 605.46,264.85 606.42,264.73 607.39,264.59 608.36,264.44 609.33,264.28 610.29,264.11 611.26,263.93 612.23,263.73 613.2,263.52 614.16,263.3 615.13,263.06 616.1,262.8 617.07,262.52 618.04,262.22 619,261.9 619.97,261.56 620.94,261.19 621.91,260.79 622.87,260.37 623.84,259.91 624.81,259.43 625.78,258.91 626.74,258.35 627.71,257.75 628.68,257.11 629.65,256.42 630.62,255.69 631.58,254.91 632.55,254.07 633.52,253.17 634.49,252.22 635.45,251.19 636.42,250.11 637.39,248.94 638.36,247.71 639.32,246.39 640.29,244.99 641.26,243.5 642.23,241.92 643.19,240.24 644.16,238.46 645.13,236.57 646.1,234.58 647.07,232.47 648.03,230.24 649,227.9 649.97,225.43 650.94,222.84 651.9,220.12 652.87,217.27 653.84,214.28 654.81,211.17 655.77,207.93 656.74,204.55 657.71,201.05 658.68,197.43 659.65,193.68 660.61,189.82 661.58,185.84 662.55,181.76 663.52,177.59 664.48,173.33 665.45,168.99 666.42,164.58 667.39,160.12 668.35,155.61 669.32,151.07 670.29,146.51 671.26,141.95 672.23,137.39 673.19,132.84 674.16,128.34 675.13,123.87 676.1,119.46 677.06,115.12 678.03,110.86 679,106.68 679.97,102.6 680.93,98.63 681.9,94.76 682.87,91.02 683.84,87.4 684.8,83.9 685.77,80.54 686.74,77.31 687.71,74.21 688.68,71.24 689.64,68.41 690.61,65.71 691.58,63.14 692.55,60.7 693.51,58.39 694.48,56.2 695.45,54.12 696.42,52.17 697.38,50.32 698.35,48.58 699.32,46.95 700.29,45.41 701.25,43.96 702.22,42.61 703.19,41.34 704.16,40.15 705.13,39.04 706.09,38 707.06,37.03 708.03,36.12 709,35.28 709.96,34.49 710.93,33.75 711.9,33.07 712.87,32.43 713.83,31.84 714.8,31.29 715.77,30.78 716.74,30.3 717.71,29.86 718.67,29.45 719.64,29.07 720.61,28.71 721.58,28.38 722.54,28.08 723.51,27.8 724.48,27.54 725.45,27.29 726.41,27.07 727.38,26.86 728.35,26.67 729.32,26.49 730.28,26.32 731.25,26.17 732.22,26.03 733.19,25.9 734.16,25.78 735.12,25.66 736.09,25.56 737.06,25.46 738.03,25.37 738.99,25.29 739.96,25.22 740.93,25.15 741.9,25.08 742.86,25.02 743.83,24.97 744.8,24.91" fill="none" stroke="#111" stroke-width="1"/>
<path d="M454.5 263.2l3.2 5.6h-6.4z"/>
<path d="M464.18 263.2l3.2 5.6h-6.4z"/>
<path d="M473.85 263.2l3.2 5.6h-6.4z"/>
<path d="M483.53 263.2l3.2 5.6h-6.4z"/>
<path d="M493.21 263.2l3.2 5.6h-6.4z"/>
<path d="M502.88 263.2l3.2 5.6h-6.4z"/>
<path d="M512.56 263.2l3.2 5.6h-6.4z"/>
<path d="M522.24 263.2l3.2 5.6h-6.4z"/>
<path d="M531.91 263.2l3.2 5.6h-6.4z"/>
<path d="M541.59 263.2l3.2 5.6h-6.4z"/>
<path d="M551.27 263.2l3.2 5.6h-6.4z"/>
<path d="M560.94 263.2l3.2 5.6h-6.4z"/>
<path d="M570.62 263.2l3.2 5.6h-6.4z"/>
<path d="M580.3 263.2l3.2 5.6h-6.4z"/>
<path d="M589.97 263.2l3.2 5.6h-6.4z"/>
<path d="M599.65 263.2l3.2 5.6h-6.4z"/>
<path d="M609.33 263.2l3.2 5.6h-6.4z"/>
<path d="M619 263.2l3.2 5.6h-6.4z"/>
<path d="M628.68 263.2l3.2 5.6h-6.4z"/>
<path d="M638.36 248.42l3.2 5.6h-6.4z"/>
<path d="M648.03 225.16l3.2 5.6h-6.4z"/>
<path d="M657.71 191.96l3.2 5.6h-6.4z"/>
<path d="M667.39 153.68l3.2 5.6h-6.4z"/>
<path d="M677.06 116.12l3.2 5.6h-6.4z"/>
<path d="M686.74 73.24l3.2 5.6h-6.4z"/>
<path d="M696.42 58.94l3.2 5.6h-6.4z"/>
<circle cx="454.5" cy="266.6" r="2.7"/>
<circle cx="464.18" cy="266.6" r="2.7"/>
<circle cx="473.85" cy="266.6" r="2.7"/>
<circle cx="483.53" cy="266.6" r="2.7"/>
<circle cx="493.21" cy="266.6" r="2.7"/>
<circle cx="502.88" cy="266.6" r="2.7"/>
<circle cx="512.56" cy="266.6" r="2.7"/>
<circle cx="522.24" cy="265.15" r="2.7"/>
<circle cx="531.91" cy="263.21" r="2.7"/>
<circle cx="541.59" cy="261.03" r="2.7"/>
<circle cx="551.27" cy="257.63" r="2.7"/>
<circle cx="560.94" cy="255.45" r="2.7"/>
<circle cx="570.62" cy="248.67" r="2.7"/>
<circle cx="580.3" cy="241.64" r="2.7"/>
<circle cx="589.97" cy="232.68" r="2.7"/>
<circle cx="599.65" cy="221.29" r="2.7"/>
<circle cx="609.33" cy="205.54" r="2.7"/>
<circle cx="619" cy="179.86" r="2.7"/>
<circle cx="628.68" cy="139.88" r="2.7"/>
<circle cx="638.36" cy="93.11" r="2.7"/>
<circle cx="648.03" cy="61.86" r="2.7"/>
<circle cx="657.71" cy="41.26" r="2.7"/>
<circle cx="667.39" cy="29.39" r="2.7"/>
<circle cx="677.06" cy="26" r="2.7"/>
<rect x="451.8" y="263.9" width="5.4" height="5.4"/>
<rect x="461.48" y="263.9" width="5.4" height="5.4"/>
<rect x="471.15" y="263.9" width="5.4" height="5.4"/>
<rect x="480.83" y="263.9" width="5.4" height="5.4"/>
<rect x="490.51" y="263.9" width="5.4" height="5.4"/>
<rect x="500.18" y="263.9" width="5.4" height="5.4"/>
<rect x="509.86" y="263.9" width="5.4" height="5.4"/>
<rect x="519.54" y="263.9" width="5.4" height="5.4"/>
<rect x="529.21" y="263.9" width="5.4" height="5.4"/>
<rect x="538.89" y="263.9" width="5.4" height="5.4"/>
<rect x="548.57" y="263.9" width="5.4" height="5.4"/>
<rect x="558.24" y="263.9" width="5.4" height="5.4"/>
<rect x="567.92" y="263.9" width="5.4" height="5.4"/>
<rect x="577.6" y="263.9" width="5.4" height="5.4"/>
<rect x="587.27" y="258.33" width="5.4" height="5.4"/>
<rect x="596.95" y="247.42" width="5.4" height="5.4"/>
<rect x="606.63" y="231.43" width="5.4" height="5.4"/>
<rect x="616.3" y="221.01" width="5.4" height="5.4"/>
<rect x="625.98" y="199.21" width="5.4" height="5.4"/>
<rect x="635.66" y="177.4" width="5.4" height="5.4"/>
<rect x="645.33" y="145.17" width="5.4" height="5.4"/>
<rect x="655.01" y="112.7" width="5.4" height="5.4"/>
<rect x="664.69" y="70.06" width="5.4" height="5.4"/>
<rect x="674.36" y="37.35" width="5.4" height="5.4"/>
<rect x="684.04" y="21.6" width="5.4" height="5.4"/>
<rect x="693.72" y="21.6" width="5.4" height="5.4"/>
<rect x="703.39" y="21.6" width="5.4" height="5.4"/>
<rect x="713.07" y="21.6" width="5.4" height="5.4"/>
<rect x="722.75" y="21.6" width="5.4" height="5.4"/>
<rect x="732.42" y="21.6" width="5.4" height="5.4"/>
<rect x="742.1" y="21.6" width="5.4" height="5.4"/>
<text class="pl" x="471" y="20.6">D: E61Q</text></g>
<g id="pE"><rect x="455" y="321.5" width="294.2" height="294" fill="none" stroke="#3a3a3a" stroke-width="1"/>
<path d="M504.03 615.5v-5M504.03 321.5v5M553.07 615.5v-5M553.07 321.5v5M602.1 615.5v-5M602.1 321.5v5M651.13 615.5v-5M651.13 321.5v5M700.17 615.5v-5M700.17 321.5v5M455 591.2h5M749.2 591.2h-5M455 542.22h5M749.2 542.22h-5M455 493.24h5M749.2 493.24h-5M455 444.26h5M749.2 444.26h-5M455 395.28h5M749.2 395.28h-5M455 346.3h5M749.2 346.3h-5" stroke="#3a3a3a" stroke-width="1" fill="none"/>
<text class="tl" transform="translate(455,632) scale(0.82,1)">60</text>
<text class="tl" transform="translate(504.03,632) scale(0.82,1)">65</text>
<text class="tl" transform="translate(553.07,632) scale(0.82,1)">70</text>
<text class="tl" transform="translate(602.1,632) scale(0.82,1)">75</text>
<text class="tl" transform="translate(651.13,632) scale(0.82,1)">80</text>
<text class="tl" transform="translate(700.17,632) scale(0.82,1)">85</text>
<text class="tl" transform="translate(749.2,632) scale(0.82,1)">90</text>
<text class="tl" transform="translate(433.6,594.5) scale(0.82,1)">0</text>
<text class="tl" transform="translate(438,594.5) scale(0.82,1)">.</text>
<text class="tl" transform="translate(444.7,594.5) scale(0.82,1)">0</text>
<text class="tl" transform="translate(433.6,545.52) scale(0.82,1)">0</text>
<text class="tl" transform="translate(438,545.52) scale(0.82,1)">.</text>
<text class="tl" transform="translate(444.7,545.52) scale(0.82,1)">2</text>
<text class="tl" transform="translate(433.6,496.54) scale(0.82,1)">0</text>
<text class="tl" transform="translate(438,496.54) scale(0.82,1)">.</text>
<text class="tl" transform="translate(444.7,496.54) scale(0.82,1)">4</text>
<text class="tl" transform="translate(433.6,447.56) scale(0.82,1)">0</text>
<text class="tl" transform="translate(438,447.56) scale(0.82,1)">.</text>
<text class="tl" transform="translate(444.7,447.56) scale(0.82,1)">6</text>
<text class="tl" transform="translate(433.6,398.58) scale(0.82,1)">0</text>
<text class="tl" transform="translate(438,398.58) scale(0.82,1)">.</text>
<text class="tl" transform="translate(444.7,398.58) scale(0.82,1)">8</text>
<path d="M433.5 340.8V349.6M431.8 342.3L433.5 340.8" stroke="#222" stroke-width="1.25" fill="none"/>
<text class="tl" transform="translate(438,349.6) scale(0.82,1)">.</text>
<text class="tl" transform="translate(444.7,349.6) scale(0.82,1)">0</text>
<polyline points="455,591.2 455.98,591.2 456.96,591.2 457.94,591.2 458.92,591.2 459.9,591.2 460.88,591.2 461.86,591.2 462.85,591.2 463.83,591.2 464.81,591.2 465.79,591.2 466.77,591.19 467.75,591.19 468.73,591.19 469.71,591.19 470.69,591.19 471.67,591.19 472.65,591.19 473.63,591.19 474.61,591.19 475.59,591.19 476.57,591.19 477.56,591.19 478.54,591.18 479.52,591.18 480.5,591.18 481.48,591.18 482.46,591.18 483.44,591.17 484.42,591.17 485.4,591.17 486.38,591.17 487.36,591.16 488.34,591.16 489.32,591.16 490.3,591.15 491.28,591.15 492.27,591.14 493.25,591.14 494.23,591.13 495.21,591.12 496.19,591.12 497.17,591.11 498.15,591.1 499.13,591.09 500.11,591.08 501.09,591.07 502.07,591.05 503.05,591.04 504.03,591.02 505.01,591.01 505.99,590.99 506.98,590.97 507.96,590.95 508.94,590.92 509.92,590.9 510.9,590.87 511.88,590.83 512.86,590.8 513.84,590.76 514.82,590.72 515.8,590.67 516.78,590.62 517.76,590.57 518.74,590.51 519.72,590.44 520.7,590.37 521.69,590.29 522.67,590.2 523.65,590.11 524.63,590 525.61,589.89 526.59,589.77 527.57,589.63 528.55,589.48 529.53,589.32 530.51,589.14 531.49,588.94 532.47,588.73 533.45,588.5 534.43,588.24 535.41,587.97 536.4,587.66 537.38,587.33 538.36,586.97 539.34,586.57 540.32,586.14 541.3,585.67 542.28,585.15 543.26,584.59 544.24,583.98 545.22,583.32 546.2,582.6 547.18,581.81 548.16,580.95 549.14,580.02 550.12,579.01 551.11,577.92 552.09,576.73 553.07,575.45 554.05,574.06 555.03,572.55 556.01,570.93 556.99,569.18 557.97,567.3 558.95,565.27 559.93,563.09 560.91,560.76 561.89,558.27 562.87,555.6 563.85,552.76 564.83,549.74 565.82,546.53 566.8,543.13 567.78,539.54 568.76,535.77 569.74,531.8 570.72,527.64 571.7,523.3 572.68,518.78 573.66,514.1 574.64,509.25 575.62,504.27 576.6,499.15 577.58,493.91 578.56,488.58 579.54,483.17 580.53,477.71 581.51,472.21 582.49,466.7 583.47,461.2 584.45,455.73 585.43,450.31 586.41,444.97 587.39,439.72 588.37,434.59 589.35,429.58 590.33,424.72 591.31,420.01 592.29,415.46 593.27,411.1 594.25,406.91 595.24,402.91 596.22,399.1 597.2,395.48 598.18,392.05 599.16,388.81 600.14,385.75 601.12,382.88 602.1,380.18 603.08,377.65 604.06,375.28 605.04,373.07 606.02,371.01 607,369.09 607.98,367.31 608.96,365.65 609.95,364.12 610.93,362.7 611.91,361.38 612.89,360.17 613.87,359.04 614.85,358.01 615.83,357.05 616.81,356.17 617.79,355.36 618.77,354.61 619.75,353.93 620.73,353.29 621.71,352.71 622.69,352.18 623.67,351.69 624.66,351.24 625.64,350.83 626.62,350.45 627.6,350.1 628.58,349.78 629.56,349.49 630.54,349.22 631.52,348.98 632.5,348.75 633.48,348.54 634.46,348.35 635.44,348.18 636.42,348.02 637.4,347.88 638.38,347.74 639.37,347.62 640.35,347.51 641.33,347.41 642.31,347.31 643.29,347.23 644.27,347.15 645.25,347.08 646.23,347.01 647.21,346.95 648.19,346.9 649.17,346.85 650.15,346.8 651.13,346.76 652.11,346.72 653.09,346.68 654.08,346.65 655.06,346.62 656.04,346.59 657.02,346.57 658,346.55 658.98,346.53 659.96,346.51 660.94,346.49 661.92,346.47 662.9,346.46 663.88,346.45 664.86,346.43 665.84,346.42 666.82,346.41 667.8,346.4 668.79,346.39 669.77,346.39 670.75,346.38 671.73,346.37 672.71,346.37 673.69,346.36 674.67,346.36 675.65,346.35 676.63,346.35 677.61,346.34 678.59,346.34 679.57,346.34 680.55,346.33 681.53,346.33 682.51,346.33 683.5,346.33 684.48,346.32 685.46,346.32 686.44,346.32 687.42,346.32 688.4,346.32 689.38,346.31 690.36,346.31 691.34,346.31 692.32,346.31 693.3,346.31 694.28,346.31 695.26,346.31 696.24,346.31 697.22,346.31 698.21,346.31 699.19,346.31 700.17,346.31 701.15,346.31 702.13,346.3 703.11,346.3 704.09,346.3 705.07,346.3 706.05,346.3 707.03,346.3 708.01,346.3 708.99,346.3 709.97,346.3 710.95,346.3 711.93,346.3 712.92,346.3 713.9,346.3 714.88,346.3 715.86,346.3 716.84,346.3 717.82,346.3 718.8,346.3 719.78,346.3 720.76,346.3 721.74,346.3 722.72,346.3 723.7,346.3 724.68,346.3 725.66,346.3 726.64,346.3 727.63,346.3 728.61,346.3 729.59,346.3 730.57,346.3 731.55,346.3 732.53,346.3 733.51,346.3 734.49,346.3 735.47,346.3 736.45,346.3 737.43,346.3 738.41,346.3 739.39,346.3 740.37,346.3 741.35,346.3 742.34,346.3 743.32,346.3 744.3,346.3 745.28,346.3 746.26,346.3 747.24,346.3 748.22,346.3 749.2,346.3" fill="none" stroke="#111" stroke-width="1"/>
<polyline points="455,591.2 455.98,591.2 456.96,591.2 457.94,591.19 458.92,591.19 459.9,591.19 460.88,591.19 461.86,591.19 462.85,591.19 463.83,591.19 464.81,591.19 465.79,591.19 466.77,591.19 467.75,591.19 468.73,591.19 469.71,591.19 470.69,591.19 471.67,591.18 472.65,591.18 473.63,591.18 474.61,591.18 475.59,591.18 476.57,591.18 477.56,591.17 478.54,591.17 479.52,591.17 480.5,591.17 481.48,591.16 482.46,591.16 483.44,591.16 484.42,591.15 485.4,591.15 486.38,591.15 487.36,591.14 488.34,591.14 489.32,591.13 490.3,591.13 491.28,591.12 492.27,591.11 493.25,591.11 494.23,591.1 495.21,591.09 496.19,591.08 497.17,591.07 498.15,591.06 499.13,591.05 500.11,591.03 501.09,591.02 502.07,591 503.05,590.99 504.03,590.97 505.01,590.95 505.99,590.93 506.98,590.9 507.96,590.88 508.94,590.85 509.92,590.82 510.9,590.79 511.88,590.75 512.86,590.71 513.84,590.67 514.82,590.63 515.8,590.58 516.78,590.52 517.76,590.47 518.74,590.4 519.72,590.33 520.7,590.26 521.69,590.18 522.67,590.09 523.65,589.99 524.63,589.89 525.61,589.78 526.59,589.66 527.57,589.52 528.55,589.38 529.53,589.22 530.51,589.05 531.49,588.87 532.47,588.67 533.45,588.45 534.43,588.22 535.41,587.96 536.4,587.68 537.38,587.38 538.36,587.06 539.34,586.7 540.32,586.32 541.3,585.9 542.28,585.45 543.26,584.96 544.24,584.43 545.22,583.86 546.2,583.24 547.18,582.57 548.16,581.85 549.14,581.06 550.12,580.22 551.11,579.3 552.09,578.32 553.07,577.25 554.05,576.11 555.03,574.87 556.01,573.55 556.99,572.12 557.97,570.59 558.95,568.94 559.93,567.18 560.91,565.29 561.89,563.27 562.87,561.12 563.85,558.82 564.83,556.38 565.82,553.78 566.8,551.03 567.78,548.11 568.76,545.03 569.74,541.78 570.72,538.36 571.7,534.77 572.68,531.01 573.66,527.09 574.64,523 575.62,518.75 576.6,514.36 577.58,509.82 578.56,505.14 579.54,500.35 580.53,495.45 581.51,490.45 582.49,485.38 583.47,480.24 584.45,475.06 585.43,469.86 586.41,464.65 587.39,459.45 588.37,454.29 589.35,449.17 590.33,444.12 591.31,439.16 592.29,434.29 593.27,429.54 594.25,424.91 595.24,420.43 596.22,416.08 597.2,411.9 598.18,407.87 599.16,404.01 600.14,400.32 601.12,396.8 602.1,393.45 603.08,390.28 604.06,387.27 605.04,384.42 606.02,381.74 607,379.22 607.98,376.85 608.96,374.62 609.95,372.54 610.93,370.59 611.91,368.77 612.89,367.08 613.87,365.5 614.85,364.03 615.83,362.66 616.81,361.4 617.79,360.22 618.77,359.13 619.75,358.12 620.73,357.18 621.71,356.32 622.69,355.52 623.67,354.79 624.66,354.1 625.64,353.48 626.62,352.9 627.6,352.36 628.58,351.87 629.56,351.42 630.54,351 631.52,350.62 632.5,350.27 633.48,349.94 634.46,349.64 635.44,349.37 636.42,349.12 637.4,348.88 638.38,348.67 639.37,348.47 640.35,348.29 641.33,348.13 642.31,347.98 643.29,347.84 644.27,347.71 645.25,347.59 646.23,347.49 647.21,347.39 648.19,347.3 649.17,347.21 650.15,347.14 651.13,347.07 652.11,347 653.09,346.94 654.08,346.89 655.06,346.84 656.04,346.8 657.02,346.75 658,346.72 658.98,346.68 659.96,346.65 660.94,346.62 661.92,346.59 662.9,346.57 663.88,346.55 664.86,346.53 665.84,346.51 666.82,346.49 667.8,346.47 668.79,346.46 669.77,346.45 670.75,346.43 671.73,346.42 672.71,346.41 673.69,346.4 674.67,346.39 675.65,346.39 676.63,346.38 677.61,346.37 678.59,346.37 679.57,346.36 680.55,346.35 681.53,346.35 682.51,346.35 683.5,346.34 684.48,346.34 685.46,346.34 686.44,346.33 687.42,346.33 688.4,346.33 689.38,346.32 690.36,346.32 691.34,346.32 692.32,346.32 693.3,346.32 694.28,346.32 695.26,346.31 696.24,346.31 697.22,346.31 698.21,346.31 699.19,346.31 700.17,346.31 701.15,346.31 702.13,346.31 703.11,346.31 704.09,346.31 705.07,346.31 706.05,346.31 707.03,346.3 708.01,346.3 708.99,346.3 709.97,346.3 710.95,346.3 711.93,346.3 712.92,346.3 713.9,346.3 714.88,346.3 715.86,346.3 716.84,346.3 717.82,346.3 718.8,346.3 719.78,346.3 720.76,346.3 721.74,346.3 722.72,346.3 723.7,346.3 724.68,346.3 725.66,346.3 726.64,346.3 727.63,346.3 728.61,346.3 729.59,346.3 730.57,346.3 731.55,346.3 732.53,346.3 733.51,346.3 734.49,346.3 735.47,346.3 736.45,346.3 737.43,346.3 738.41,346.3 739.39,346.3 740.37,346.3 741.35,346.3 742.34,346.3 743.32,346.3 744.3,346.3 745.28,346.3 746.26,346.3 747.24,346.3 748.22,346.3 749.2,346.3" fill="none" stroke="#111" stroke-width="1"/>
<polyline points="455,591.19 455.98,591.19 456.96,591.19 457.94,591.19 458.92,591.19 459.9,591.19 460.88,591.19 461.86,591.19 462.85,591.19 463.83,591.19 464.81,591.19 465.79,591.19 466.77,591.19 467.75,591.18 468.73,591.18 469.71,591.18 470.69,591.18 471.67,591.18 472.65,591.18 473.63,591.18 474.61,591.17 475.59,591.17 476.57,591.17 477.56,591.17 478.54,591.16 479.52,591.16 480.5,591.16 481.48,591.15 482.46,591.15 483.44,591.15 484.42,591.14 485.4,591.14 486.38,591.13 487.36,591.13 488.34,591.12 489.32,591.12 490.3,591.11 491.28,591.1 492.27,591.09 493.25,591.08 494.23,591.07 495.21,591.06 496.19,591.05 497.17,591.04 498.15,591.03 499.13,591.01 500.11,591 501.09,590.98 502.07,590.97 503.05,590.95 504.03,590.93 505.01,590.9 505.99,590.88 506.98,590.85 507.96,590.83 508.94,590.79 509.92,590.76 510.9,590.73 511.88,590.69 512.86,590.65 513.84,590.6 514.82,590.55 515.8,590.5 516.78,590.44 517.76,590.38 518.74,590.32 519.72,590.24 520.7,590.17 521.69,590.08 522.67,589.99 523.65,589.89 524.63,589.79 525.61,589.67 526.59,589.55 527.57,589.42 528.55,589.27 529.53,589.12 530.51,588.95 531.49,588.77 532.47,588.57 533.45,588.36 534.43,588.13 535.41,587.89 536.4,587.62 537.38,587.33 538.36,587.02 539.34,586.69 540.32,586.33 541.3,585.94 542.28,585.52 543.26,585.07 544.24,584.58 545.22,584.06 546.2,583.5 547.18,582.89 548.16,582.24 549.14,581.54 550.12,580.78 551.11,579.97 552.09,579.1 553.07,578.17 554.05,577.16 555.03,576.09 556.01,574.94 556.99,573.71 557.97,572.39 558.95,570.99 559.93,569.48 560.91,567.88 561.89,566.18 562.87,564.36 563.85,562.43 564.83,560.38 565.82,558.2 566.8,555.9 567.78,553.46 568.76,550.89 569.74,548.18 570.72,545.33 571.7,542.33 572.68,539.19 573.66,535.9 574.64,532.48 575.62,528.9 576.6,525.19 577.58,521.34 578.56,517.36 579.54,513.25 580.53,509.02 581.51,504.69 582.49,500.25 583.47,495.72 584.45,491.11 585.43,486.44 586.41,481.71 587.39,476.94 588.37,472.15 589.35,467.34 590.33,462.54 591.31,457.76 592.29,453.02 593.27,448.32 594.25,443.68 595.24,439.11 596.22,434.63 597.2,430.25 598.18,425.98 599.16,421.81 600.14,417.78 601.12,413.87 602.1,410.1 603.08,406.46 604.06,402.97 605.04,399.62 606.02,396.42 607,393.36 607.98,390.45 608.96,387.68 609.95,385.05 610.93,382.55 611.91,380.19 612.89,377.97 613.87,375.86 614.85,373.88 615.83,372.02 616.81,370.26 617.79,368.62 618.77,367.07 619.75,365.63 620.73,364.28 621.71,363.01 622.69,361.83 623.67,360.72 624.66,359.69 625.64,358.73 626.62,357.84 627.6,357 628.58,356.23 629.56,355.51 630.54,354.83 631.52,354.21 632.5,353.63 633.48,353.09 634.46,352.59 635.44,352.13 636.42,351.7 637.4,351.3 638.38,350.93 639.37,350.58 640.35,350.26 641.33,349.97 642.31,349.69 643.29,349.44 644.27,349.21 645.25,348.99 646.23,348.79 647.21,348.6 648.19,348.43 649.17,348.27 650.15,348.12 651.13,347.98 652.11,347.86 653.09,347.74 654.08,347.63 655.06,347.53 656.04,347.44 657.02,347.35 658,347.27 658.98,347.2 659.96,347.13 660.94,347.07 661.92,347.01 662.9,346.96 663.88,346.91 664.86,346.86 665.84,346.82 666.82,346.78 667.8,346.74 668.79,346.71 669.77,346.68 670.75,346.65 671.73,346.62 672.71,346.6 673.69,346.58 674.67,346.56 675.65,346.54 676.63,346.52 677.61,346.5 678.59,346.49 679.57,346.47 680.55,346.46 681.53,346.45 682.51,346.44 683.5,346.43 684.48,346.42 685.46,346.41 686.44,346.4 687.42,346.39 688.4,346.39 689.38,346.38 690.36,346.37 691.34,346.37 692.32,346.36 693.3,346.36 694.28,346.35 695.26,346.35 696.24,346.35 697.22,346.34 698.21,346.34 699.19,346.34 700.17,346.33 701.15,346.33 702.13,346.33 703.11,346.33 704.09,346.32 705.07,346.32 706.05,346.32 707.03,346.32 708.01,346.32 708.99,346.32 709.97,346.32 710.95,346.31 711.93,346.31 712.92,346.31 713.9,346.31 714.88,346.31 715.86,346.31 716.84,346.31 717.82,346.31 718.8,346.31 719.78,346.31 720.76,346.31 721.74,346.31 722.72,346.31 723.7,346.3 724.68,346.3 725.66,346.3 726.64,346.3 727.63,346.3 728.61,346.3 729.59,346.3 730.57,346.3 731.55,346.3 732.53,346.3 733.51,346.3 734.49,346.3 735.47,346.3 736.45,346.3 737.43,346.3 738.41,346.3 739.39,346.3 740.37,346.3 741.35,346.3 742.34,346.3 743.32,346.3 744.3,346.3 745.28,346.3 746.26,346.3 747.24,346.3 748.22,346.3 749.2,346.3" fill="none" stroke="#111" stroke-width="1"/>
<path d="M455 587.8l3.2 5.6h-6.4z"/>
<path d="M464.81 587.8l3.2 5.6h-6.4z"/>
<path d="M474.61 587.8l3.2 5.6h-6.4z"/>
<path d="M484.42 587.8l3.2 5.6h-6.4z"/>
<path d="M494.23 587.8l3.2 5.6h-6.4z"/>
<path d="M504.03 587.8l3.2 5.6h-6.4z"/>
<path d="M513.84 581.92l3.2 5.6h-6.4z"/>
<path d="M523.65 578.74l3.2 5.6h-6.4z"/>
<path d="M533.45 575.56l3.2 5.6h-6.4z"/>
<path d="M543.26 570.17l3.2 5.6h-6.4z"/>
<path d="M553.07 565.76l3.2 5.6h-6.4z"/>
<path d="M562.87 556.21l3.2 5.6h-6.4z"/>
<path d="M572.68 535.88l3.2 5.6h-6.4z"/>
<path d="M582.49 506.98l3.2 5.6h-6.4z"/>
<path d="M592.29 461.92l3.2 5.6h-6.4z"/>
<path d="M602.1 412.45l3.2 5.6h-6.4z"/>
<path d="M611.91 374.74l3.2 5.6h-6.4z"/>
<path d="M621.71 354.41l3.2 5.6h-6.4z"/>
<path d="M631.52 342.9l3.2 5.6h-6.4z"/>
<circle cx="455" cy="591.2" r="2.7"/>
<circle cx="464.81" cy="591.2" r="2.7"/>
<circle cx="474.61" cy="591.2" r="2.7"/>
<circle cx="484.42" cy="591.2" r="2.7"/>
<circle cx="494.23" cy="591.2" r="2.7"/>
<circle cx="504.03" cy="589" r="2.7"/>
<circle cx="513.84" cy="588.26" r="2.7"/>
<circle cx="523.65" cy="586.3" r="2.7"/>
<circle cx="533.45" cy="583.85" r="2.7"/>
<circle cx="543.26" cy="578.96" r="2.7"/>
<circle cx="553.07" cy="566.22" r="2.7"/>
<circle cx="562.87" cy="549.81" r="2.7"/>
<circle cx="572.68" cy="519.69" r="2.7"/>
<circle cx="582.49" cy="476.34" r="2.7"/>
<circle cx="592.29" cy="419.77" r="2.7"/>
<circle cx="602.1" cy="374.71" r="2.7"/>
<circle cx="611.91" cy="356.59" r="2.7"/>
<circle cx="621.71" cy="346.3" r="2.7"/>
<circle cx="631.52" cy="346.3" r="2.7"/>
<rect x="452.3" y="588.5" width="5.4" height="5.4"/>
<rect x="462.11" y="588.5" width="5.4" height="5.4"/>
<rect x="471.91" y="588.5" width="5.4" height="5.4"/>
<rect x="481.72" y="588.5" width="5.4" height="5.4"/>
<rect x="491.53" y="588.5" width="5.4" height="5.4"/>
<rect x="501.33" y="588.5" width="5.4" height="5.4"/>
<rect x="511.14" y="586.05" width="5.4" height="5.4"/>
<rect x="520.95" y="582.62" width="5.4" height="5.4"/>
<rect x="530.75" y="579.93" width="5.4" height="5.4"/>
<rect x="540.56" y="574.05" width="5.4" height="5.4"/>
<rect x="550.37" y="568.17" width="5.4" height="5.4"/>
<rect x="560.17" y="554.95" width="5.4" height="5.4"/>
<rect x="569.98" y="528.74" width="5.4" height="5.4"/>
<rect x="579.79" y="492.01" width="5.4" height="5.4"/>
<rect x="589.59" y="440.34" width="5.4" height="5.4"/>
<rect x="599.4" y="390.13" width="5.4" height="5.4"/>
<rect x="609.21" y="362.46" width="5.4" height="5.4"/>
<rect x="619.01" y="350.46" width="5.4" height="5.4"/>
<rect x="628.82" y="343.6" width="5.4" height="5.4"/>
<rect x="638.63" y="343.6" width="5.4" height="5.4"/>
<rect x="648.43" y="343.6" width="5.4" height="5.4"/>
<rect x="658.24" y="343.6" width="5.4" height="5.4"/>
<rect x="668.05" y="343.6" width="5.4" height="5.4"/>
<rect x="677.85" y="343.6" width="5.4" height="5.4"/>
<rect x="687.66" y="343.6" width="5.4" height="5.4"/>
<rect x="697.47" y="343.6" width="5.4" height="5.4"/>
<rect x="707.27" y="343.6" width="5.4" height="5.4"/>
<rect x="717.08" y="343.6" width="5.4" height="5.4"/>
<rect x="726.89" y="343.6" width="5.4" height="5.4"/>
<rect x="736.69" y="343.6" width="5.4" height="5.4"/>
<rect x="746.5" y="343.6" width="5.4" height="5.4"/>
<text class="pl" x="461.5" y="343.7">E: E61Q/W103F</text></g>
<g id="pF"><rect x="455.3" y="656.5" width="296.2" height="296.4" fill="none" stroke="#3a3a3a" stroke-width="1"/>
<path d="M504.67 952.9v-5M504.67 656.5v5M554.03 952.9v-5M554.03 656.5v5M603.4 952.9v-5M603.4 656.5v5M652.77 952.9v-5M652.77 656.5v5M702.13 952.9v-5M702.13 656.5v5M455.3 928.2h5M751.5 928.2h-5M455.3 878.8h5M751.5 878.8h-5M455.3 829.4h5M751.5 829.4h-5M455.3 780h5M751.5 780h-5M455.3 730.6h5M751.5 730.6h-5M455.3 681.2h5M751.5 681.2h-5" stroke="#3a3a3a" stroke-width="1" fill="none"/>
<text class="tl" transform="translate(455.3,968.5) scale(0.82,1)">60</text>
<text class="tl" transform="translate(504.67,968.5) scale(0.82,1)">65</text>
<text class="tl" transform="translate(554.03,968.5) scale(0.82,1)">70</text>
<text class="tl" transform="translate(603.4,968.5) scale(0.82,1)">75</text>
<text class="tl" transform="translate(652.77,968.5) scale(0.82,1)">80</text>
<text class="tl" transform="translate(702.13,968.5) scale(0.82,1)">85</text>
<text class="tl" transform="translate(751.5,968.5) scale(0.82,1)">90</text>
<text class="tl" transform="translate(433.9,931.5) scale(0.82,1)">0</text>
<text class="tl" transform="translate(438.3,931.5) scale(0.82,1)">.</text>
<text class="tl" transform="translate(445,931.5) scale(0.82,1)">0</text>
<text class="tl" transform="translate(433.9,882.1) scale(0.82,1)">0</text>
<text class="tl" transform="translate(438.3,882.1) scale(0.82,1)">.</text>
<text class="tl" transform="translate(445,882.1) scale(0.82,1)">2</text>
<text class="tl" transform="translate(433.9,832.7) scale(0.82,1)">0</text>
<text class="tl" transform="translate(438.3,832.7) scale(0.82,1)">.</text>
<text class="tl" transform="translate(445,832.7) scale(0.82,1)">4</text>
<text class="tl" transform="translate(433.9,783.3) scale(0.82,1)">0</text>
<text class="tl" transform="translate(438.3,783.3) scale(0.82,1)">.</text>
<text class="tl" transform="translate(445,783.3) scale(0.82,1)">6</text>
<text class="tl" transform="translate(433.9,733.9) scale(0.82,1)">0</text>
<text class="tl" transform="translate(438.3,733.9) scale(0.82,1)">.</text>
<text class="tl" transform="translate(445,733.9) scale(0.82,1)">8</text>
<path d="M433.8 675.7V684.5M432.1 677.2L433.8 675.7" stroke="#222" stroke-width="1.25" fill="none"/>
<text class="tl" transform="translate(438.3,684.5) scale(0.82,1)">.</text>
<text class="tl" transform="translate(445,684.5) scale(0.82,1)">0</text>
<polyline points="455.3,928.13 456.29,928.12 457.27,928.12 458.26,928.11 459.25,928.1 460.24,928.09 461.22,928.08 462.21,928.07 463.2,928.06 464.19,928.05 465.17,928.04 466.16,928.03 467.15,928.01 468.14,927.99 469.12,927.98 470.11,927.96 471.1,927.94 472.08,927.91 473.07,927.89 474.06,927.86 475.05,927.83 476.03,927.8 477.02,927.76 478.01,927.72 479,927.68 479.98,927.63 480.97,927.58 481.96,927.52 482.95,927.46 483.93,927.39 484.92,927.32 485.91,927.24 486.89,927.15 487.88,927.05 488.87,926.94 489.86,926.83 490.84,926.7 491.83,926.56 492.82,926.4 493.81,926.23 494.79,926.05 495.78,925.84 496.77,925.62 497.76,925.37 498.74,925.1 499.73,924.8 500.72,924.47 501.7,924.11 502.69,923.71 503.68,923.28 504.67,922.8 505.65,922.28 506.64,921.7 507.63,921.07 508.62,920.37 509.6,919.61 510.59,918.77 511.58,917.85 512.57,916.84 513.55,915.74 514.54,914.53 515.53,913.21 516.51,911.76 517.5,910.18 518.49,908.45 519.48,906.56 520.46,904.51 521.45,902.28 522.44,899.86 523.43,897.23 524.41,894.39 525.4,891.33 526.39,888.02 527.38,884.47 528.36,880.67 529.35,876.61 530.34,872.28 531.32,867.69 532.31,862.83 533.3,857.72 534.29,852.36 535.27,846.76 536.26,840.94 537.25,834.91 538.24,828.72 539.22,822.37 540.21,815.91 541.2,809.37 542.19,802.78 543.17,796.18 544.16,789.61 545.15,783.11 546.13,776.71 547.12,770.45 548.11,764.35 549.1,758.45 550.08,752.77 551.07,747.33 552.06,742.14 553.05,737.23 554.03,732.58 555.02,728.21 556.01,724.13 557,720.31 557.98,716.77 558.97,713.49 559.96,710.46 560.94,707.67 561.93,705.12 562.92,702.78 563.91,700.64 564.89,698.69 565.88,696.92 566.87,695.31 567.86,693.86 568.84,692.54 569.83,691.36 570.82,690.28 571.81,689.32 572.79,688.45 573.78,687.67 574.77,686.97 575.75,686.35 576.74,685.78 577.73,685.28 578.72,684.83 579.7,684.43 580.69,684.07 581.68,683.75 582.67,683.47 583.65,683.21 584.64,682.99 585.63,682.78 586.62,682.6 587.6,682.44 588.59,682.3 589.58,682.18 590.56,682.06 591.55,681.96 592.54,681.88 593.53,681.8 594.51,681.73 595.5,681.67 596.49,681.61 597.48,681.56 598.46,681.52 599.45,681.48 600.44,681.45 601.43,681.42 602.41,681.39 603.4,681.37 604.39,681.35 605.37,681.33 606.36,681.32 607.35,681.3 608.34,681.29 609.32,681.28 610.31,681.27 611.3,681.26 612.29,681.25 613.27,681.25 614.26,681.24 615.25,681.24 616.24,681.23 617.22,681.23 618.21,681.22 619.2,681.22 620.18,681.22 621.17,681.22 622.16,681.21 623.15,681.21 624.13,681.21 625.12,681.21 626.11,681.21 627.1,681.21 628.08,681.21 629.07,681.21 630.06,681.2 631.05,681.2 632.03,681.2 633.02,681.2 634.01,681.2 634.99,681.2 635.98,681.2 636.97,681.2 637.96,681.2 638.94,681.2 639.93,681.2 640.92,681.2 641.91,681.2 642.89,681.2 643.88,681.2 644.87,681.2 645.86,681.2 646.84,681.2 647.83,681.2 648.82,681.2 649.8,681.2 650.79,681.2 651.78,681.2 652.77,681.2 653.75,681.2 654.74,681.2 655.73,681.2 656.72,681.2 657.7,681.2 658.69,681.2 659.68,681.2 660.67,681.2 661.65,681.2 662.64,681.2 663.63,681.2 664.61,681.2 665.6,681.2 666.59,681.2 667.58,681.2 668.56,681.2 669.55,681.2 670.54,681.2 671.53,681.2 672.51,681.2 673.5,681.2 674.49,681.2 675.48,681.2 676.46,681.2 677.45,681.2 678.44,681.2 679.42,681.2 680.41,681.2 681.4,681.2 682.39,681.2 683.37,681.2 684.36,681.2 685.35,681.2 686.34,681.2 687.32,681.2 688.31,681.2 689.3,681.2 690.29,681.2 691.27,681.2 692.26,681.2 693.25,681.2 694.23,681.2 695.22,681.2 696.21,681.2 697.2,681.2 698.18,681.2 699.17,681.2 700.16,681.2 701.15,681.2 702.13,681.2 703.12,681.2 704.11,681.2 705.1,681.2 706.08,681.2 707.07,681.2 708.06,681.2 709.04,681.2 710.03,681.2 711.02,681.2 712.01,681.2 712.99,681.2 713.98,681.2 714.97,681.2 715.96,681.2 716.94,681.2 717.93,681.2 718.92,681.2 719.91,681.2 720.89,681.2 721.88,681.2 722.87,681.2 723.85,681.2 724.84,681.2 725.83,681.2 726.82,681.2 727.8,681.2 728.79,681.2 729.78,681.2 730.77,681.2 731.75,681.2 732.74,681.2 733.73,681.2 734.72,681.2 735.7,681.2 736.69,681.2 737.68,681.2 738.66,681.2 739.65,681.2 740.64,681.2 741.63,681.2 742.61,681.2 743.6,681.2 744.59,681.2 745.58,681.2 746.56,681.2 747.55,681.2 748.54,681.2 749.53,681.2 750.51,681.2 751.5,681.2" fill="none" stroke="#111" stroke-width="1"/>
<polyline points="455.3,928.13 456.29,928.13 457.27,928.13 458.26,928.12 459.25,928.11 460.24,928.11 461.22,928.1 462.21,928.09 463.2,928.09 464.19,928.08 465.17,928.07 466.16,928.06 467.15,928.05 468.14,928.04 469.12,928.02 470.11,928.01 471.1,928 472.08,927.98 473.07,927.96 474.06,927.94 475.05,927.92 476.03,927.9 477.02,927.88 478.01,927.85 479,927.82 479.98,927.79 480.97,927.76 481.96,927.72 482.95,927.68 483.93,927.64 484.92,927.59 485.91,927.54 486.89,927.48 487.88,927.42 488.87,927.36 489.86,927.28 490.84,927.2 491.83,927.12 492.82,927.02 493.81,926.92 494.79,926.81 495.78,926.68 496.77,926.55 497.76,926.4 498.74,926.24 499.73,926.06 500.72,925.87 501.7,925.66 502.69,925.42 503.68,925.17 504.67,924.89 505.65,924.58 506.64,924.25 507.63,923.88 508.62,923.48 509.6,923.04 510.59,922.55 511.58,922.02 512.57,921.44 513.55,920.8 514.54,920.1 515.53,919.33 516.51,918.48 517.5,917.56 518.49,916.55 519.48,915.44 520.46,914.23 521.45,912.9 522.44,911.45 523.43,909.87 524.41,908.14 525.4,906.25 526.39,904.2 527.38,901.97 528.36,899.55 529.35,896.92 530.34,894.08 531.32,891.01 532.31,887.7 533.3,884.15 534.29,880.34 535.27,876.26 536.26,871.92 537.25,867.32 538.24,862.44 539.22,857.3 540.21,851.9 541.2,846.27 542.19,840.4 543.17,834.33 544.16,828.08 545.15,821.68 546.13,815.15 547.12,808.55 548.11,801.89 549.1,795.22 550.08,788.58 551.07,782.01 552.06,775.55 553.05,769.23 554.03,763.08 555.02,757.13 556.01,751.41 557,745.94 557.98,740.73 558.97,735.8 559.96,731.15 560.94,726.78 561.93,722.7 562.92,718.91 563.91,715.39 564.89,712.14 565.88,709.15 566.87,706.4 567.86,703.89 568.84,701.6 569.83,699.51 570.82,697.61 571.81,695.9 572.79,694.34 573.78,692.94 574.77,691.68 575.75,690.54 576.74,689.52 577.73,688.6 578.72,687.78 579.7,687.05 580.69,686.39 581.68,685.8 582.67,685.28 583.65,684.82 584.64,684.4 585.63,684.03 586.62,683.7 587.6,683.41 588.59,683.16 589.58,682.93 590.56,682.72 591.55,682.54 592.54,682.38 593.53,682.24 594.51,682.12 595.5,682.01 596.49,681.91 597.48,681.83 598.46,681.75 599.45,681.68 600.44,681.62 601.43,681.57 602.41,681.53 603.4,681.49 604.39,681.45 605.37,681.42 606.36,681.39 607.35,681.37 608.34,681.35 609.32,681.33 610.31,681.31 611.3,681.3 612.29,681.29 613.27,681.28 614.26,681.27 615.25,681.26 616.24,681.25 617.22,681.24 618.21,681.24 619.2,681.23 620.18,681.23 621.17,681.22 622.16,681.22 623.15,681.22 624.13,681.22 625.12,681.21 626.11,681.21 627.1,681.21 628.08,681.21 629.07,681.21 630.06,681.21 631.05,681.21 632.03,681.21 633.02,681.2 634.01,681.2 634.99,681.2 635.98,681.2 636.97,681.2 637.96,681.2 638.94,681.2 639.93,681.2 640.92,681.2 641.91,681.2 642.89,681.2 643.88,681.2 644.87,681.2 645.86,681.2 646.84,681.2 647.83,681.2 648.82,681.2 649.8,681.2 650.79,681.2 651.78,681.2 652.77,681.2 653.75,681.2 654.74,681.2 655.73,681.2 656.72,681.2 657.7,681.2 658.69,681.2 659.68,681.2 660.67,681.2 661.65,681.2 662.64,681.2 663.63,681.2 664.61,681.2 665.6,681.2 666.59,681.2 667.58,681.2 668.56,681.2 669.55,681.2 670.54,681.2 671.53,681.2 672.51,681.2 673.5,681.2 674.49,681.2 675.48,681.2 676.46,681.2 677.45,681.2 678.44,681.2 679.42,681.2 680.41,681.2 681.4,681.2 682.39,681.2 683.37,681.2 684.36,681.2 685.35,681.2 686.34,681.2 687.32,681.2 688.31,681.2 689.3,681.2 690.29,681.2 691.27,681.2 692.26,681.2 693.25,681.2 694.23,681.2 695.22,681.2 696.21,681.2 697.2,681.2 698.18,681.2 699.17,681.2 700.16,681.2 701.15,681.2 702.13,681.2 703.12,681.2 704.11,681.2 705.1,681.2 706.08,681.2 707.07,681.2 708.06,681.2 709.04,681.2 710.03,681.2 711.02,681.2 712.01,681.2 712.99,681.2 713.98,681.2 714.97,681.2 715.96,681.2 716.94,681.2 717.93,681.2 718.92,681.2 719.91,681.2 720.89,681.2 721.88,681.2 722.87,681.2 723.85,681.2 724.84,681.2 725.83,681.2 726.82,681.2 727.8,681.2 728.79,681.2 729.78,681.2 730.77,681.2 731.75,681.2 732.74,681.2 733.73,681.2 734.72,681.2 735.7,681.2 736.69,681.2 737.68,681.2 738.66,681.2 739.65,681.2 740.64,681.2 741.63,681.2 742.61,681.2 743.6,681.2 744.59,681.2 745.58,681.2 746.56,681.2 747.55,681.2 748.54,681.2 749.53,681.2 750.51,681.2 751.5,681.2" fill="none" stroke="#111" stroke-width="1"/>
<polyline points="455.3,928.16 456.29,928.16 457.27,928.16 458.26,928.15 459.25,928.15 460.24,928.14 461.22,928.14 462.21,928.13 463.2,928.13 464.19,928.12 465.17,928.12 466.16,928.11 467.15,928.1 468.14,928.09 469.12,928.08 470.11,928.07 471.1,928.06 472.08,928.05 473.07,928.04 474.06,928.02 475.05,928.01 476.03,927.99 477.02,927.97 478.01,927.95 479,927.93 479.98,927.9 480.97,927.88 481.96,927.85 482.95,927.81 483.93,927.78 484.92,927.74 485.91,927.7 486.89,927.65 487.88,927.6 488.87,927.54 489.86,927.48 490.84,927.42 491.83,927.34 492.82,927.26 493.81,927.18 494.79,927.08 495.78,926.97 496.77,926.86 497.76,926.73 498.74,926.59 499.73,926.44 500.72,926.27 501.7,926.09 502.69,925.88 503.68,925.66 504.67,925.42 505.65,925.15 506.64,924.85 507.63,924.53 508.62,924.17 509.6,923.78 510.59,923.36 511.58,922.88 512.57,922.37 513.55,921.8 514.54,921.18 515.53,920.49 516.51,919.74 517.5,918.92 518.49,918.02 519.48,917.03 520.46,915.95 521.45,914.77 522.44,913.48 523.43,912.06 524.41,910.52 525.4,908.84 526.39,907 527.38,905.01 528.36,902.84 529.35,900.49 530.34,897.94 531.32,895.19 532.31,892.22 533.3,889.03 534.29,885.59 535.27,881.92 536.26,878 537.25,873.82 538.24,869.39 539.22,864.7 540.21,859.76 541.2,854.58 542.19,849.17 543.17,843.53 544.16,837.7 545.15,831.69 546.13,825.53 547.12,819.24 548.11,812.86 549.1,806.42 550.08,799.96 551.07,793.5 552.06,787.09 553.05,780.77 554.03,774.55 555.02,768.48 556.01,762.58 557,756.87 557.98,751.38 558.97,746.13 559.96,741.13 560.94,736.38 561.93,731.9 562.92,727.68 563.91,723.73 564.89,720.04 565.88,716.61 566.87,713.43 567.86,710.48 568.84,707.77 569.83,705.27 570.82,702.98 571.81,700.89 572.79,698.97 573.78,697.23 574.77,695.64 575.75,694.2 576.74,692.89 577.73,691.7 578.72,690.63 579.7,689.66 580.69,688.79 581.68,688 582.67,687.29 583.65,686.65 584.64,686.08 585.63,685.56 586.62,685.1 587.6,684.68 588.59,684.31 589.58,683.97 590.56,683.68 591.55,683.41 592.54,683.17 593.53,682.95 594.51,682.76 595.5,682.59 596.49,682.44 597.48,682.3 598.46,682.18 599.45,682.07 600.44,681.98 601.43,681.89 602.41,681.81 603.4,681.74 604.39,681.68 605.37,681.63 606.36,681.58 607.35,681.54 608.34,681.5 609.32,681.47 610.31,681.44 611.3,681.41 612.29,681.39 613.27,681.36 614.26,681.35 615.25,681.33 616.24,681.31 617.22,681.3 618.21,681.29 619.2,681.28 620.18,681.27 621.17,681.26 622.16,681.25 623.15,681.25 624.13,681.24 625.12,681.24 626.11,681.23 627.1,681.23 628.08,681.23 629.07,681.22 630.06,681.22 631.05,681.22 632.03,681.22 633.02,681.21 634.01,681.21 634.99,681.21 635.98,681.21 636.97,681.21 637.96,681.21 638.94,681.21 639.93,681.21 640.92,681.2 641.91,681.2 642.89,681.2 643.88,681.2 644.87,681.2 645.86,681.2 646.84,681.2 647.83,681.2 648.82,681.2 649.8,681.2 650.79,681.2 651.78,681.2 652.77,681.2 653.75,681.2 654.74,681.2 655.73,681.2 656.72,681.2 657.7,681.2 658.69,681.2 659.68,681.2 660.67,681.2 661.65,681.2 662.64,681.2 663.63,681.2 664.61,681.2 665.6,681.2 666.59,681.2 667.58,681.2 668.56,681.2 669.55,681.2 670.54,681.2 671.53,681.2 672.51,681.2 673.5,681.2 674.49,681.2 675.48,681.2 676.46,681.2 677.45,681.2 678.44,681.2 679.42,681.2 680.41,681.2 681.4,681.2 682.39,681.2 683.37,681.2 684.36,681.2 685.35,681.2 686.34,681.2 687.32,681.2 688.31,681.2 689.3,681.2 690.29,681.2 691.27,681.2 692.26,681.2 693.25,681.2 694.23,681.2 695.22,681.2 696.21,681.2 697.2,681.2 698.18,681.2 699.17,681.2 700.16,681.2 701.15,681.2 702.13,681.2 703.12,681.2 704.11,681.2 705.1,681.2 706.08,681.2 707.07,681.2 708.06,681.2 709.04,681.2 710.03,681.2 711.02,681.2 712.01,681.2 712.99,681.2 713.98,681.2 714.97,681.2 715.96,681.2 716.94,681.2 717.93,681.2 718.92,681.2 719.91,681.2 720.89,681.2 721.88,681.2 722.87,681.2 723.85,681.2 724.84,681.2 725.83,681.2 726.82,681.2 727.8,681.2 728.79,681.2 729.78,681.2 730.77,681.2 731.75,681.2 732.74,681.2 733.73,681.2 734.72,681.2 735.7,681.2 736.69,681.2 737.68,681.2 738.66,681.2 739.65,681.2 740.64,681.2 741.63,681.2 742.61,681.2 743.6,681.2 744.59,681.2 745.58,681.2 746.56,681.2 747.55,681.2 748.54,681.2 749.53,681.2 750.51,681.2 751.5,681.2" fill="none" stroke="#111" stroke-width="1"/>
<path d="M455.3 924.8l3.2 5.6h-6.4z"/>
<path d="M465.17 924.8l3.2 5.6h-6.4z"/>
<path d="M475.05 924.8l3.2 5.6h-6.4z"/>
<path d="M484.92 924.8l3.2 5.6h-6.4z"/>
<path d="M494.79 923.07l3.2 5.6h-6.4z"/>
<path d="M504.67 918.38l3.2 5.6h-6.4z"/>
<path d="M514.54 913.69l3.2 5.6h-6.4z"/>
<path d="M524.41 911.96l3.2 5.6h-6.4z"/>
<path d="M534.29 879.11l3.2 5.6h-6.4z"/>
<path d="M544.16 837.36l3.2 5.6h-6.4z"/>
<path d="M554.03 772.15l3.2 5.6h-6.4z"/>
<path d="M563.91 719.54l3.2 5.6h-6.4z"/>
<path d="M573.78 691.39l3.2 5.6h-6.4z"/>
<path d="M583.65 677.8l3.2 5.6h-6.4z"/>
<circle cx="455.3" cy="928.2" r="2.7"/>
<circle cx="465.17" cy="928.2" r="2.7"/>
<circle cx="475.05" cy="925.48" r="2.7"/>
<circle cx="484.92" cy="924" r="2.7"/>
<circle cx="494.79" cy="920.79" r="2.7"/>
<circle cx="504.67" cy="913.38" r="2.7"/>
<circle cx="514.54" cy="905.97" r="2.7"/>
<circle cx="524.41" cy="891.4" r="2.7"/>
<circle cx="534.29" cy="854.59" r="2.7"/>
<circle cx="544.16" cy="795.07" r="2.7"/>
<circle cx="554.03" cy="728.13" r="2.7"/>
<circle cx="563.91" cy="687.38" r="2.7"/>
<circle cx="573.78" cy="681.2" r="2.7"/>
<rect x="452.6" y="925.5" width="5.4" height="5.4"/>
<rect x="462.47" y="925.5" width="5.4" height="5.4"/>
<rect x="472.35" y="925.5" width="5.4" height="5.4"/>
<rect x="482.22" y="925.5" width="5.4" height="5.4"/>
<rect x="492.09" y="917.35" width="5.4" height="5.4"/>
<rect x="501.97" y="912.66" width="5.4" height="5.4"/>
<rect x="511.84" y="906.73" width="5.4" height="5.4"/>
<rect x="521.71" y="896.6" width="5.4" height="5.4"/>
<rect x="531.59" y="872.39" width="5.4" height="5.4"/>
<rect x="541.46" y="832.38" width="5.4" height="5.4"/>
<rect x="551.33" y="752.35" width="5.4" height="5.4"/>
<rect x="561.21" y="699.5" width="5.4" height="5.4"/>
<rect x="571.08" y="683.69" width="5.4" height="5.4"/>
<rect x="580.95" y="679.49" width="5.4" height="5.4"/>
<rect x="590.83" y="678.5" width="5.4" height="5.4"/>
<rect x="600.7" y="678.5" width="5.4" height="5.4"/>
<rect x="610.57" y="678.5" width="5.4" height="5.4"/>
<rect x="620.45" y="678.5" width="5.4" height="5.4"/>
<rect x="630.32" y="678.5" width="5.4" height="5.4"/>
<rect x="640.19" y="678.5" width="5.4" height="5.4"/>
<rect x="650.07" y="678.5" width="5.4" height="5.4"/>
<rect x="659.94" y="678.5" width="5.4" height="5.4"/>
<rect x="669.81" y="678.5" width="5.4" height="5.4"/>
<rect x="679.69" y="678.5" width="5.4" height="5.4"/>
<rect x="689.56" y="678.5" width="5.4" height="5.4"/>
<rect x="699.43" y="678.5" width="5.4" height="5.4"/>
<rect x="709.31" y="678.5" width="5.4" height="5.4"/>
<rect x="719.18" y="678.5" width="5.4" height="5.4"/>
<rect x="729.05" y="678.5" width="5.4" height="5.4"/>
<rect x="738.93" y="678.5" width="5.4" height="5.4"/>
<rect x="748.8" y="678.5" width="5.4" height="5.4"/>
<text class="pl" x="461.3" y="674.3">F: E61Q/W103A</text></g>
<text class="ax" style="font-size:36.5px" transform="translate(33.8,575.7) rotate(-90)" textLength="132.4" lengthAdjust="spacingAndGlyphs">Fraction</text>
<text class="ax" style="font-size:36.5px" transform="translate(33.8,432.8) rotate(-90)" textLength="146.2" lengthAdjust="spacingAndGlyphs">unfolded</text>
<text class="ax" style="font-size:35.5px" x="262" y="1020.5" textLength="209.5" lengthAdjust="spacingAndGlyphs">Temperature</text>
<text class="ax" style="font-size:37.4px" stroke="#000" stroke-width="0.7" transform="translate(482.9,1020) scale(0.69,1)">(</text>
<text class="ax" style="font-size:19.6px" stroke="#000" stroke-width="0.35" transform="translate(494.5,1008.6) scale(1.1,1)">o</text>
<text class="ax" style="font-size:37.5px" stroke="#000" stroke-width="0.6" transform="translate(508.8,1020.5) scale(0.78,1)">C</text>
<text class="ax" style="font-size:37.4px" stroke="#000" stroke-width="0.7" transform="translate(532.25,1020) scale(0.69,1)">)</text>
</svg>
</body></html>
